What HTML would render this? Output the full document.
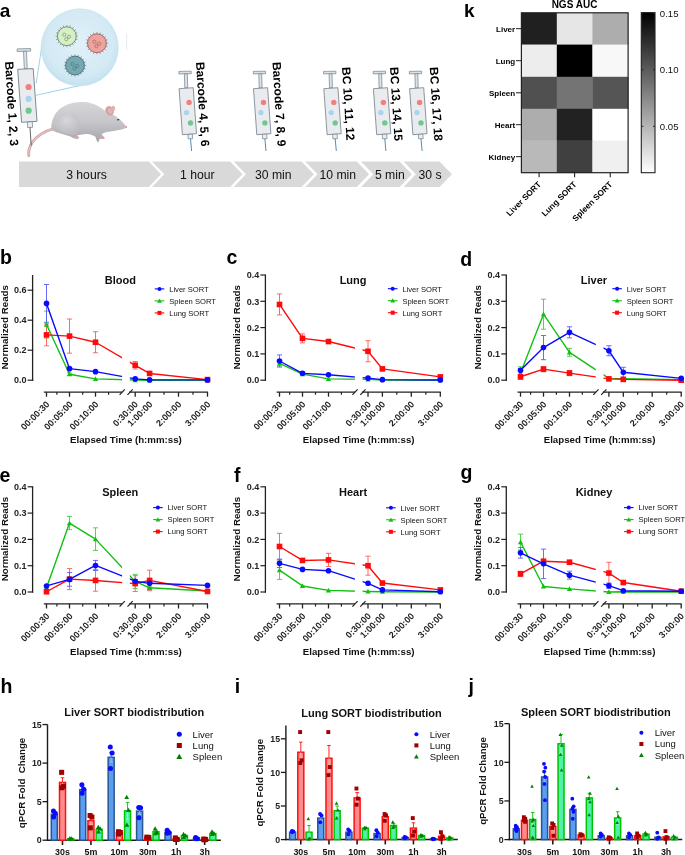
<!DOCTYPE html>
<html><head><meta charset="utf-8"><style>
html,body{margin:0;padding:0;background:#fff;}
body{width:685px;height:855px;overflow:hidden;}
svg{display:block;will-change:transform;}
text{font-family:"Liberation Sans", sans-serif;}
</style></head><body>
<svg width="685" height="855" viewBox="0 0 685 855">
<rect x="0" y="0" width="685" height="855" fill="#fff"/>
<text x="-0.3" y="16.7" font-size="19" font-weight="bold" text-anchor="start" fill="#000">a</text>
<polygon points="19,161.5 148.8,161.5 161.1,174.25 148.8,187 19,187" fill="#d9d9d9" stroke="none" stroke-width="1"/>
<polygon points="152,161.5 230.2,161.5 242.5,174.25 230.2,187 152,187 164.3,174.25" fill="#d9d9d9" stroke="none" stroke-width="1"/>
<polygon points="233.6,161.5 301.6,161.5 313.9,174.25 301.6,187 233.6,187 245.9,174.25" fill="#d9d9d9" stroke="none" stroke-width="1"/>
<polygon points="305.2,161.5 356.8,161.5 369.1,174.25 356.8,187 305.2,187 317.5,174.25" fill="#d9d9d9" stroke="none" stroke-width="1"/>
<polygon points="361,161.5 399.6,161.5 411.9,174.25 399.6,187 361,187 373.3,174.25" fill="#d9d9d9" stroke="none" stroke-width="1"/>
<polygon points="403.6,161.5 439.6,161.5 451.9,174.25 439.6,187 403.6,187 415.9,174.25" fill="#d9d9d9" stroke="none" stroke-width="1"/>
<text x="86.5" y="179" font-size="12.2" text-anchor="middle" fill="#111">3 hours</text>
<text x="197.3" y="179" font-size="12.2" text-anchor="middle" fill="#111">1 hour</text>
<text x="273.3" y="179" font-size="12.2" text-anchor="middle" fill="#111">30 min</text>
<text x="337.8" y="179" font-size="12.2" text-anchor="middle" fill="#111">10 min</text>
<text x="389.8" y="179" font-size="12.2" text-anchor="middle" fill="#111">5 min</text>
<text x="430" y="179" font-size="12.2" text-anchor="middle" fill="#111">30 s</text>
<defs><radialGradient id="bub" cx="50%" cy="45%" r="55%"><stop offset="0%" stop-color="#e2f1f8"/><stop offset="80%" stop-color="#d3e9f4"/><stop offset="100%" stop-color="#c4e1ef"/></radialGradient></defs>
<line x1="36" y1="95.3" x2="80" y2="85.5" stroke="#8cc4e0" stroke-width="0.8"/>
<line x1="36.2" y1="83" x2="42.5" y2="42" stroke="#8cc4e0" stroke-width="0.8"/>
<circle cx="79.7" cy="47.4" r="38.6" fill="url(#bub)" stroke="#bfe0ef" stroke-width="0.6"/>
<line x1="126.6" y1="33" x2="126.6" y2="50" stroke="#e6e6e6" stroke-width="0.9"/>
<path d="M76.1 36.2L78 36.2M75.64 39.07L77.45 39.66M74.32 41.67L75.86 42.78M72.27 43.72L73.38 45.26M69.67 45.04L70.26 46.85M66.8 45.5L66.8 47.4M63.93 45.04L63.34 46.85M61.33 43.72L60.22 45.26M59.28 41.67L57.74 42.78M57.96 39.07L56.15 39.66M57.5 36.2L55.6 36.2M57.96 33.33L56.15 32.74M59.28 30.73L57.74 29.62M61.33 28.68L60.22 27.14M63.93 27.36L63.34 25.55M66.8 26.9L66.8 25M69.67 27.36L70.26 25.55M72.27 28.68L73.38 27.14M74.32 30.73L75.86 29.62M75.64 33.33L77.45 32.74" stroke="#556" stroke-width="0.5"/>
<circle cx="66.8" cy="36.2" r="9.4" fill="#d8eec4" stroke="#5f8f5f" stroke-width="0.9"/>
<circle cx="64.3" cy="34.7" r="1.6" fill="none" stroke="#5f8f5f" stroke-width="0.6"/>
<circle cx="69" cy="36.7" r="1.6" fill="none" stroke="#5f8f5f" stroke-width="0.6"/>
<circle cx="66.3" cy="39.2" r="1.6" fill="none" stroke="#5f8f5f" stroke-width="0.6"/>
<path d="M106.2 43.2L108.1 43.2M105.74 46.07L107.55 46.66M104.42 48.67L105.96 49.78M102.37 50.72L103.48 52.26M99.77 52.04L100.36 53.85M96.9 52.5L96.9 54.4M94.03 52.04L93.44 53.85M91.43 50.72L90.32 52.26M89.38 48.67L87.84 49.78M88.06 46.07L86.25 46.66M87.6 43.2L85.7 43.2M88.06 40.33L86.25 39.74M89.38 37.73L87.84 36.62M91.43 35.68L90.32 34.14M94.03 34.36L93.44 32.55M96.9 33.9L96.9 32M99.77 34.36L100.36 32.55M102.37 35.68L103.48 34.14M104.42 37.73L105.96 36.62M105.74 40.33L107.55 39.74" stroke="#556" stroke-width="0.5"/>
<circle cx="96.9" cy="43.2" r="9.4" fill="#eba59d" stroke="#a85858" stroke-width="0.9"/>
<circle cx="94.4" cy="41.7" r="1.6" fill="none" stroke="#a85858" stroke-width="0.6"/>
<circle cx="99.1" cy="43.7" r="1.6" fill="none" stroke="#a85858" stroke-width="0.6"/>
<circle cx="96.4" cy="46.2" r="1.6" fill="none" stroke="#a85858" stroke-width="0.6"/>
<path d="M84.3 65.5L86.2 65.5M83.84 68.37L85.65 68.96M82.52 70.97L84.06 72.08M80.47 73.02L81.58 74.56M77.87 74.34L78.46 76.15M75 74.8L75 76.7M72.13 74.34L71.54 76.15M69.53 73.02L68.42 74.56M67.48 70.97L65.94 72.08M66.16 68.37L64.35 68.96M65.7 65.5L63.8 65.5M66.16 62.63L64.35 62.04M67.48 60.03L65.94 58.92M69.53 57.98L68.42 56.44M72.13 56.66L71.54 54.85M75 56.2L75 54.3M77.87 56.66L78.46 54.85M80.47 57.98L81.58 56.44M82.52 60.03L84.06 58.92M83.84 62.63L85.65 62.04" stroke="#556" stroke-width="0.5"/>
<circle cx="75" cy="65.5" r="9.4" fill="#76a8b1" stroke="#42727c" stroke-width="0.9"/>
<circle cx="72.5" cy="64" r="1.6" fill="none" stroke="#42727c" stroke-width="0.6"/>
<circle cx="77.2" cy="66" r="1.6" fill="none" stroke="#42727c" stroke-width="0.6"/>
<circle cx="74.5" cy="68.5" r="1.6" fill="none" stroke="#42727c" stroke-width="0.6"/>
<path d="M54,128.5 C45,131 37,136 32.5,142 C29.5,146.5 28.2,151 28.8,155.5" fill="none" stroke="#c49a9d" stroke-width="2.8" stroke-linecap="round"/>
<path d="M54,128.5 C45,131 37,136 32.5,142 C29.5,146.5 28.2,151 28.8,155.5" fill="none" stroke="#e2c2c4" stroke-width="1.4" stroke-linecap="round"/>
<defs><linearGradient id="ms" x1="0" y1="0" x2="0" y2="1"><stop offset="0%" stop-color="#d6d6d9"/><stop offset="50%" stop-color="#c6c6ca"/><stop offset="100%" stop-color="#a3a3a9"/></linearGradient><radialGradient id="mhh" cx="0.45" cy="0.35" r="0.6"><stop offset="0%" stop-color="#dadadd"/><stop offset="100%" stop-color="#bdbdc2"/></radialGradient></defs>
<path d="M51.5,130 C50.5,122 54,113 61,108 C67,103.5 76,101.5 85,102 C92,102.5 99,106 104,110 C108,112 113,114 116,116.5 C120,119 124,123 126.5,127 C125,129 122,129.5 119,130 C115,130.8 112,131.2 108,131.8 C105,132.2 103,133 101.5,134.5 C102.5,135.8 104.8,137 104.6,138.4 C103,139.2 101,139 99.8,138.6 C99.5,140 98.8,141.6 98.1,142.4 C96.8,141 95.8,139 95.5,136.8 C92,134.5 89,134 86,134 C82,134.5 79,135 77,135.2 C78,136.5 79.5,137.5 78.5,138.6 C76,139 73,138.5 70.5,136.5 C64,134.5 57,132.8 51.5,130 Z" fill="url(#ms)"/>
<path d="M56,128 C55,119 61,113 68,113 C75,113 80,119 80,126 C80,131 77,134 73,135 C66,134.5 60,132.5 56,128 Z" fill="url(#mhh)" opacity="0.85"/>
<ellipse cx="109.6" cy="110.8" rx="3.5" ry="4.6" transform="rotate(-25 109.6 110.8)" fill="#d79ea1" stroke="#bf9496" stroke-width="0.4"/>
<ellipse cx="110" cy="111.2" rx="2" ry="3" transform="rotate(-25 110 111.2)" fill="#e6b4b6"/>
<ellipse cx="113.2" cy="108.4" rx="2.0" ry="2.6" fill="#ddb0b2"/>
<ellipse cx="118.2" cy="119.8" rx="1.2" ry="0.75" fill="#3a3a40"/>
<circle cx="126.3" cy="127" r="0.9" fill="#d99a9a"/>
<path d="M101,135 C102.5,135.8 104.8,137 104.6,138.4 C103,139.2 101,139 99.8,138.6 Z" fill="#d8a6a9"/>
<path d="M76.5,135.3 C78,136.5 79.5,137.5 78.5,138.6 C76.5,139 74.5,138.6 73,137.8 Z" fill="#d8a6a9"/>
<polygon points="17.1,48.9 30.6,48.5 30.7,51.1 17.2,51.5" fill="#dde2e6" stroke="#6f7f8a" stroke-width="0.7"/>
<polygon points="23.5,51.3 26.5,51.2 27.2,68.4 24.3,68.6" fill="#dde2e6" stroke="#6f7f8a" stroke-width="0.7"/>
<polygon points="17.7,69.3 33.2,68.6 37,121.3 21.6,122.3" fill="#eaebee" stroke="#6f7f8a" stroke-width="0.9"/>
<polygon points="27.4,122 32.3,121.7 32.6,127.4 27.7,127.6" fill="#eceef0" stroke="#6f7f8a" stroke-width="0.7"/>
<line x1="30" y1="127.5" x2="31.2" y2="145.5" stroke="#555" stroke-width="0.9"/>
<circle cx="28.6" cy="87" r="3.1" fill="#f08080"/>
<circle cx="28.6" cy="98.9" r="3.1" fill="#a8d4ec"/>
<circle cx="28.6" cy="110.7" r="3.1" fill="#70c890"/>
<g transform="translate(178.9,0)">
<polygon points="0,71.4 12.3,71.2 12.3,73.7 0,73.9" fill="#dde2e6" stroke="#6f7f8a" stroke-width="0.7"/>
<polygon points="5.5,73.8 8.4,73.7 8.8,87.8 5.9,87.9" fill="#dde2e6" stroke="#6f7f8a" stroke-width="0.7"/>
<polygon points="0.2,88.7 14.3,87.7 17.6,133.7 3.5,134.7" fill="#eaebee" stroke="#6f7f8a" stroke-width="0.8"/>
<circle cx="10.2" cy="102.4" r="2.7" fill="#f08080"/>
<circle cx="7.6" cy="112.6" r="2.7" fill="#a8d4ec"/>
<circle cx="11.6" cy="122.9" r="2.7" fill="#70c890"/>
<polygon points="9,134.4 13.5,134.1 13.8,138.6 9.3,138.8" fill="#eceef0" stroke="#6f7f8a" stroke-width="0.7"/>
<line x1="11.6" y1="138.8" x2="12.7" y2="151" stroke="#3f7fb0" stroke-width="0.9"/>
</g>
<g transform="translate(253.3,0)">
<polygon points="0,71.4 12.3,71.2 12.3,73.7 0,73.9" fill="#dde2e6" stroke="#6f7f8a" stroke-width="0.7"/>
<polygon points="5.5,73.8 8.4,73.7 8.8,87.8 5.9,87.9" fill="#dde2e6" stroke="#6f7f8a" stroke-width="0.7"/>
<polygon points="0.2,88.7 14.3,87.7 17.6,133.7 3.5,134.7" fill="#eaebee" stroke="#6f7f8a" stroke-width="0.8"/>
<circle cx="10.2" cy="102.4" r="2.7" fill="#f08080"/>
<circle cx="7.6" cy="112.6" r="2.7" fill="#a8d4ec"/>
<circle cx="11.6" cy="122.9" r="2.7" fill="#70c890"/>
<polygon points="9,134.4 13.5,134.1 13.8,138.6 9.3,138.8" fill="#eceef0" stroke="#6f7f8a" stroke-width="0.7"/>
<line x1="11.6" y1="138.8" x2="12.7" y2="151" stroke="#3f7fb0" stroke-width="0.9"/>
</g>
<g transform="translate(323.6,0)">
<polygon points="0,71.4 12.3,71.2 12.3,73.7 0,73.9" fill="#dde2e6" stroke="#6f7f8a" stroke-width="0.7"/>
<polygon points="5.5,73.8 8.4,73.7 8.8,87.8 5.9,87.9" fill="#dde2e6" stroke="#6f7f8a" stroke-width="0.7"/>
<polygon points="0.2,88.7 14.3,87.7 17.6,133.7 3.5,134.7" fill="#eaebee" stroke="#6f7f8a" stroke-width="0.8"/>
<circle cx="10.2" cy="102.4" r="2.7" fill="#f08080"/>
<circle cx="7.6" cy="112.6" r="2.7" fill="#a8d4ec"/>
<circle cx="11.6" cy="122.9" r="2.7" fill="#70c890"/>
<polygon points="9,134.4 13.5,134.1 13.8,138.6 9.3,138.8" fill="#eceef0" stroke="#6f7f8a" stroke-width="0.7"/>
<line x1="11.6" y1="138.8" x2="12.7" y2="151" stroke="#3f7fb0" stroke-width="0.9"/>
</g>
<g transform="translate(373.2,0)">
<polygon points="0,71.4 12.3,71.2 12.3,73.7 0,73.9" fill="#dde2e6" stroke="#6f7f8a" stroke-width="0.7"/>
<polygon points="5.5,73.8 8.4,73.7 8.8,87.8 5.9,87.9" fill="#dde2e6" stroke="#6f7f8a" stroke-width="0.7"/>
<polygon points="0.2,88.7 14.3,87.7 17.6,133.7 3.5,134.7" fill="#eaebee" stroke="#6f7f8a" stroke-width="0.8"/>
<circle cx="10.2" cy="102.4" r="2.7" fill="#f08080"/>
<circle cx="7.6" cy="112.6" r="2.7" fill="#a8d4ec"/>
<circle cx="11.6" cy="122.9" r="2.7" fill="#70c890"/>
<polygon points="9,134.4 13.5,134.1 13.8,138.6 9.3,138.8" fill="#eceef0" stroke="#6f7f8a" stroke-width="0.7"/>
<line x1="11.6" y1="138.8" x2="12.7" y2="151" stroke="#3f7fb0" stroke-width="0.9"/>
</g>
<g transform="translate(409.4,0)">
<polygon points="0,71.4 12.3,71.2 12.3,73.7 0,73.9" fill="#dde2e6" stroke="#6f7f8a" stroke-width="0.7"/>
<polygon points="5.5,73.8 8.4,73.7 8.8,87.8 5.9,87.9" fill="#dde2e6" stroke="#6f7f8a" stroke-width="0.7"/>
<polygon points="0.2,88.7 14.3,87.7 17.6,133.7 3.5,134.7" fill="#eaebee" stroke="#6f7f8a" stroke-width="0.8"/>
<circle cx="10.2" cy="102.4" r="2.7" fill="#f08080"/>
<circle cx="7.6" cy="112.6" r="2.7" fill="#a8d4ec"/>
<circle cx="11.6" cy="122.9" r="2.7" fill="#70c890"/>
<polygon points="9,134.4 13.5,134.1 13.8,138.6 9.3,138.8" fill="#eceef0" stroke="#6f7f8a" stroke-width="0.7"/>
<line x1="11.6" y1="138.8" x2="12.7" y2="151" stroke="#3f7fb0" stroke-width="0.9"/>
</g>
<text x="5" y="61.7" font-size="12" font-weight="bold" text-anchor="start" fill="#000" transform="rotate(86.5 5 61.7)">Barcode 1, 2, 3</text>
<text x="196" y="62.2" font-size="12" font-weight="bold" text-anchor="start" fill="#000" transform="rotate(86.5 196 62.2)">Barcode 4, 5, 6</text>
<text x="272.5" y="62.2" font-size="12" font-weight="bold" text-anchor="start" fill="#000" transform="rotate(86.5 272.5 62.2)">Barcode 7, 8, 9</text>
<text x="342" y="67.3" font-size="12" font-weight="bold" text-anchor="start" fill="#000" transform="rotate(86.5 342 67.3)">BC 10, 11, 12</text>
<text x="390" y="67.3" font-size="12" font-weight="bold" text-anchor="start" fill="#000" transform="rotate(86.5 390 67.3)">BC 13, 14, 15</text>
<text x="429.8" y="67.3" font-size="12" font-weight="bold" text-anchor="start" fill="#000" transform="rotate(86.5 429.8 67.3)">BC 16, 17, 18</text>
<text x="464" y="16.8" font-size="19" font-weight="bold" text-anchor="start" fill="#000">k</text>
<text x="574.5" y="8" font-size="10" font-weight="bold" text-anchor="middle" fill="#000">NGS AUC</text>
<rect x="521.4" y="12.8" width="35.7" height="32.1" fill="#202020" stroke="none" stroke-width="0"/>
<rect x="556.8" y="12.8" width="35.9" height="32.1" fill="#e6e6e6" stroke="none" stroke-width="0"/>
<rect x="592.4" y="12.8" width="36" height="32.1" fill="#adadad" stroke="none" stroke-width="0"/>
<rect x="521.4" y="44.6" width="35.7" height="32.5" fill="#ededed" stroke="none" stroke-width="0"/>
<rect x="556.8" y="44.6" width="35.9" height="32.5" fill="#000000" stroke="none" stroke-width="0"/>
<rect x="592.4" y="44.6" width="36" height="32.5" fill="#f8f8f8" stroke="none" stroke-width="0"/>
<rect x="521.4" y="76.8" width="35.7" height="32.3" fill="#505050" stroke="none" stroke-width="0"/>
<rect x="556.8" y="76.8" width="35.9" height="32.3" fill="#747474" stroke="none" stroke-width="0"/>
<rect x="592.4" y="76.8" width="36" height="32.3" fill="#555555" stroke="none" stroke-width="0"/>
<rect x="521.4" y="108.8" width="35.7" height="32.1" fill="#adadad" stroke="none" stroke-width="0"/>
<rect x="556.8" y="108.8" width="35.9" height="32.1" fill="#222222" stroke="none" stroke-width="0"/>
<rect x="592.4" y="108.8" width="36" height="32.1" fill="#ffffff" stroke="none" stroke-width="0"/>
<rect x="521.4" y="140.6" width="35.7" height="32.4" fill="#b9b9b9" stroke="none" stroke-width="0"/>
<rect x="556.8" y="140.6" width="35.9" height="32.4" fill="#404040" stroke="none" stroke-width="0"/>
<rect x="592.4" y="140.6" width="36" height="32.4" fill="#f0f0f0" stroke="none" stroke-width="0"/>
<rect x="521.4" y="12.8" width="106.7" height="159.9" fill="none" stroke="#222" stroke-width="1.2"/>
<line x1="516" y1="28.7" x2="521.4" y2="28.7" stroke="#222" stroke-width="1"/>
<text x="515.2" y="31.6" font-size="8" font-weight="bold" text-anchor="end" fill="#000">Liver</text>
<line x1="516" y1="60.7" x2="521.4" y2="60.7" stroke="#222" stroke-width="1"/>
<text x="515.2" y="63.6" font-size="8" font-weight="bold" text-anchor="end" fill="#000">Lung</text>
<line x1="516" y1="92.8" x2="521.4" y2="92.8" stroke="#222" stroke-width="1"/>
<text x="515.2" y="95.7" font-size="8" font-weight="bold" text-anchor="end" fill="#000">Spleen</text>
<line x1="516" y1="124.7" x2="521.4" y2="124.7" stroke="#222" stroke-width="1"/>
<text x="515.2" y="127.6" font-size="8" font-weight="bold" text-anchor="end" fill="#000">Heart</text>
<line x1="516" y1="156.65" x2="521.4" y2="156.65" stroke="#222" stroke-width="1"/>
<text x="515.2" y="159.55" font-size="8" font-weight="bold" text-anchor="end" fill="#000">Kidney</text>
<line x1="539.1" y1="172.7" x2="539.1" y2="177.2" stroke="#222" stroke-width="1.1"/>
<text x="541.7" y="184.8" font-size="8.3" font-weight="bold" text-anchor="end" fill="#000" transform="rotate(-45 541.7 184.8)">Liver SORT</text>
<line x1="574.6" y1="172.7" x2="574.6" y2="177.2" stroke="#222" stroke-width="1.1"/>
<text x="577.2" y="184.8" font-size="8.3" font-weight="bold" text-anchor="end" fill="#000" transform="rotate(-45 577.2 184.8)">Lung SORT</text>
<line x1="610.25" y1="172.7" x2="610.25" y2="177.2" stroke="#222" stroke-width="1.1"/>
<text x="612.85" y="184.8" font-size="8.3" font-weight="bold" text-anchor="end" fill="#000" transform="rotate(-45 612.85 184.8)">Spleen SORT</text>
<defs><linearGradient id="cb" x1="0" y1="0" x2="0" y2="1"><stop offset="0%" stop-color="#000"/><stop offset="100%" stop-color="#fff"/></linearGradient></defs>
<rect x="641.3" y="12.6" width="13.7" height="160.1" fill="url(#cb)" stroke="#222" stroke-width="1.1"/>
<line x1="641.3" y1="13.5" x2="643.3" y2="13.5" stroke="#222" stroke-width="1"/>
<line x1="653" y1="13.5" x2="655" y2="13.5" stroke="#222" stroke-width="1"/>
<text x="659.8" y="16.9" font-size="9.6" text-anchor="start" fill="#111">0.15</text>
<line x1="641.3" y1="69.7" x2="643.3" y2="69.7" stroke="#222" stroke-width="1"/>
<line x1="653" y1="69.7" x2="655" y2="69.7" stroke="#222" stroke-width="1"/>
<text x="659.8" y="73.1" font-size="9.6" text-anchor="start" fill="#111">0.10</text>
<line x1="641.3" y1="126.3" x2="643.3" y2="126.3" stroke="#222" stroke-width="1"/>
<line x1="653" y1="126.3" x2="655" y2="126.3" stroke="#222" stroke-width="1"/>
<text x="659.8" y="129.7" font-size="9.6" text-anchor="start" fill="#111">0.05</text>
<text x="0" y="264.2" font-size="19.5" font-weight="bold" text-anchor="start" fill="#000">b</text>
<line x1="32.6" y1="275" x2="32.6" y2="380.8" stroke="#222" stroke-width="1.3"/>
<line x1="27.6" y1="380.2" x2="33.2" y2="380.2" stroke="#222" stroke-width="1.2"/>
<text x="26.4" y="383.4" font-size="9" font-weight="bold" text-anchor="end" fill="#222">0.0</text>
<line x1="27.6" y1="350.2" x2="33.2" y2="350.2" stroke="#222" stroke-width="1.2"/>
<text x="26.4" y="353.4" font-size="9" font-weight="bold" text-anchor="end" fill="#222">0.2</text>
<line x1="27.6" y1="320.2" x2="33.2" y2="320.2" stroke="#222" stroke-width="1.2"/>
<text x="26.4" y="323.4" font-size="9" font-weight="bold" text-anchor="end" fill="#222">0.4</text>
<line x1="27.6" y1="290.2" x2="33.2" y2="290.2" stroke="#222" stroke-width="1.2"/>
<text x="26.4" y="293.4" font-size="9" font-weight="bold" text-anchor="end" fill="#222">0.6</text>
<text x="7.6" y="327.3" font-size="9.75" font-weight="bold" text-anchor="middle" fill="#111" transform="rotate(-90 7.6 327.3)">Normalized Reads</text>
<text x="120.3" y="284.2" font-size="11" font-weight="bold" text-anchor="middle" fill="#111">Blood</text>
<line x1="43.8" y1="392.1" x2="122.2" y2="392.1" stroke="#222" stroke-width="1.4"/>
<line x1="129.1" y1="392.1" x2="208" y2="392.1" stroke="#222" stroke-width="1.4"/>
<line x1="119.6" y1="394.9" x2="124.8" y2="389.3" stroke="#222" stroke-width="1.2"/>
<line x1="127.5" y1="394.9" x2="132.7" y2="389.3" stroke="#222" stroke-width="1.2"/>
<line x1="46.5" y1="392.1" x2="46.5" y2="396.7" stroke="#222" stroke-width="1.3"/>
<line x1="69.5" y1="392.1" x2="69.5" y2="396.7" stroke="#222" stroke-width="1.3"/>
<line x1="95.5" y1="392.1" x2="95.5" y2="396.7" stroke="#222" stroke-width="1.3"/>
<line x1="56.9" y1="392.1" x2="56.9" y2="394.7" stroke="#222" stroke-width="1.2"/>
<line x1="82.7" y1="392.1" x2="82.7" y2="394.7" stroke="#222" stroke-width="1.2"/>
<line x1="108.6" y1="392.1" x2="108.6" y2="394.7" stroke="#222" stroke-width="1.2"/>
<line x1="135.2" y1="392.1" x2="135.2" y2="396.7" stroke="#222" stroke-width="1.3"/>
<line x1="149.6" y1="392.1" x2="149.6" y2="396.7" stroke="#222" stroke-width="1.3"/>
<line x1="178.5" y1="392.1" x2="178.5" y2="396.7" stroke="#222" stroke-width="1.3"/>
<line x1="207.5" y1="392.1" x2="207.5" y2="396.7" stroke="#222" stroke-width="1.3"/>
<line x1="164" y1="392.1" x2="164" y2="394.7" stroke="#222" stroke-width="1.2"/>
<line x1="193" y1="392.1" x2="193" y2="394.7" stroke="#222" stroke-width="1.2"/>
<text x="50.2" y="404.8" font-size="9.1" font-weight="bold" text-anchor="end" fill="#222" transform="rotate(-45 50.2 404.8)">00:00:30</text>
<text x="73.4" y="404.8" font-size="9.1" font-weight="bold" text-anchor="end" fill="#222" transform="rotate(-45 73.4 404.8)">00:05:00</text>
<text x="99.1" y="404.8" font-size="9.1" font-weight="bold" text-anchor="end" fill="#222" transform="rotate(-45 99.1 404.8)">00:10:00</text>
<text x="138.7" y="404.8" font-size="9.1" font-weight="bold" text-anchor="end" fill="#222" transform="rotate(-45 138.7 404.8)">0:30:00</text>
<text x="153.1" y="404.8" font-size="9.1" font-weight="bold" text-anchor="end" fill="#222" transform="rotate(-45 153.1 404.8)">1:00:00</text>
<text x="182" y="404.8" font-size="9.1" font-weight="bold" text-anchor="end" fill="#222" transform="rotate(-45 182 404.8)">2:00:00</text>
<text x="211" y="404.8" font-size="9.1" font-weight="bold" text-anchor="end" fill="#222" transform="rotate(-45 211 404.8)">3:00:00</text>
<text x="125.9" y="442.9" font-size="9.7" font-weight="bold" text-anchor="middle" fill="#111">Elapsed Time (h:mm:ss)</text>
<defs><clipPath id="cl0"><rect x="37.6" y="255" width="84.5" height="130"/><rect x="129.8" y="255" width="100" height="130"/></clipPath></defs>
<line x1="46.5" y1="311.05" x2="46.5" y2="338.05" stroke="#48cc48" stroke-width="0.9"/>
<line x1="43.9" y1="311.05" x2="49.1" y2="311.05" stroke="#48cc48" stroke-width="0.9"/>
<line x1="43.9" y1="338.05" x2="49.1" y2="338.05" stroke="#48cc48" stroke-width="0.9"/>
<line x1="69.5" y1="373" x2="69.5" y2="375.4" stroke="#48cc48" stroke-width="0.9"/>
<line x1="66.9" y1="373" x2="72.1" y2="373" stroke="#48cc48" stroke-width="0.9"/>
<line x1="66.9" y1="375.4" x2="72.1" y2="375.4" stroke="#48cc48" stroke-width="0.9"/>
<line x1="46.5" y1="323.95" x2="46.5" y2="345.85" stroke="#ff5a5a" stroke-width="0.9"/>
<line x1="43.9" y1="323.95" x2="49.1" y2="323.95" stroke="#ff5a5a" stroke-width="0.9"/>
<line x1="43.9" y1="345.85" x2="49.1" y2="345.85" stroke="#ff5a5a" stroke-width="0.9"/>
<line x1="69.5" y1="319" x2="69.5" y2="353.2" stroke="#ff5a5a" stroke-width="0.9"/>
<line x1="66.9" y1="319" x2="72.1" y2="319" stroke="#ff5a5a" stroke-width="0.9"/>
<line x1="66.9" y1="353.2" x2="72.1" y2="353.2" stroke="#ff5a5a" stroke-width="0.9"/>
<line x1="95.5" y1="331.75" x2="95.5" y2="352.75" stroke="#ff5a5a" stroke-width="0.9"/>
<line x1="92.9" y1="331.75" x2="98.1" y2="331.75" stroke="#ff5a5a" stroke-width="0.9"/>
<line x1="92.9" y1="352.75" x2="98.1" y2="352.75" stroke="#ff5a5a" stroke-width="0.9"/>
<line x1="135.2" y1="361.52" x2="135.2" y2="369.02" stroke="#ff5a5a" stroke-width="0.9"/>
<line x1="132.6" y1="361.52" x2="137.8" y2="361.52" stroke="#ff5a5a" stroke-width="0.9"/>
<line x1="132.6" y1="369.02" x2="137.8" y2="369.02" stroke="#ff5a5a" stroke-width="0.9"/>
<line x1="46.5" y1="284.5" x2="46.5" y2="322.3" stroke="#5a5aff" stroke-width="0.9"/>
<line x1="43.9" y1="284.5" x2="49.1" y2="284.5" stroke="#5a5aff" stroke-width="0.9"/>
<line x1="43.9" y1="322.3" x2="49.1" y2="322.3" stroke="#5a5aff" stroke-width="0.9"/>
<line x1="69.5" y1="367.75" x2="69.5" y2="369.55" stroke="#5a5aff" stroke-width="0.9"/>
<line x1="66.9" y1="367.75" x2="72.1" y2="367.75" stroke="#5a5aff" stroke-width="0.9"/>
<line x1="66.9" y1="369.55" x2="72.1" y2="369.55" stroke="#5a5aff" stroke-width="0.9"/>
<polyline points="46.5,324.55 69.5,374.2 95.5,378.85 135.2,380.05 149.6,380.2 207.5,380.2" fill="none" stroke="#12c012" stroke-width="1.4" stroke-linejoin="round" clip-path="url(#cl0)"/>
<polygon points="43.86,326.66 49.14,326.66 46.5,321.91" fill="#12c012" stroke="none" stroke-width="1"/>
<polygon points="66.86,376.31 72.14,376.31 69.5,371.56" fill="#12c012" stroke="none" stroke-width="1"/>
<polygon points="92.86,380.96 98.14,380.96 95.5,376.21" fill="#12c012" stroke="none" stroke-width="1"/>
<polygon points="132.56,382.16 137.84,382.16 135.2,377.41" fill="#12c012" stroke="none" stroke-width="1"/>
<polygon points="146.96,382.31 152.24,382.31 149.6,377.56" fill="#12c012" stroke="none" stroke-width="1"/>
<polygon points="204.86,382.31 210.14,382.31 207.5,377.56" fill="#12c012" stroke="none" stroke-width="1"/>
<polyline points="46.5,334.9 69.5,336.1 95.5,342.25 135.2,365.27 149.6,373.45 207.5,379.6" fill="none" stroke="#ff0a0a" stroke-width="1.4" stroke-linejoin="round" clip-path="url(#cl0)"/>
<rect x="43.7" y="332.1" width="5.6" height="5.6" fill="#ff0a0a" stroke="none" stroke-width="0"/>
<rect x="66.7" y="333.3" width="5.6" height="5.6" fill="#ff0a0a" stroke="none" stroke-width="0"/>
<rect x="92.7" y="339.45" width="5.6" height="5.6" fill="#ff0a0a" stroke="none" stroke-width="0"/>
<rect x="132.4" y="362.47" width="5.6" height="5.6" fill="#ff0a0a" stroke="none" stroke-width="0"/>
<rect x="146.8" y="370.65" width="5.6" height="5.6" fill="#ff0a0a" stroke="none" stroke-width="0"/>
<rect x="204.7" y="376.8" width="5.6" height="5.6" fill="#ff0a0a" stroke="none" stroke-width="0"/>
<polyline points="46.5,303.4 69.5,368.65 95.5,371.65 135.2,378.85 149.6,379.9 207.5,379.9" fill="none" stroke="#0a0aff" stroke-width="1.4" stroke-linejoin="round" clip-path="url(#cl0)"/>
<circle cx="46.5" cy="303.4" r="2.8" fill="#0a0aff"/>
<circle cx="69.5" cy="368.65" r="2.8" fill="#0a0aff"/>
<circle cx="95.5" cy="371.65" r="2.8" fill="#0a0aff"/>
<circle cx="135.2" cy="378.85" r="2.8" fill="#0a0aff"/>
<circle cx="149.6" cy="379.9" r="2.8" fill="#0a0aff"/>
<circle cx="207.5" cy="379.9" r="2.8" fill="#0a0aff"/>
<line x1="154.7" y1="288.9" x2="164.3" y2="288.9" stroke="#0a0aff" stroke-width="1.1"/>
<circle cx="159.5" cy="288.9" r="2.02" fill="#0a0aff"/>
<text x="169.2" y="291.7" font-size="7.6" text-anchor="start" fill="#111">Liver SORT</text>
<line x1="154.7" y1="300.9" x2="164.3" y2="300.9" stroke="#12c012" stroke-width="1.1"/>
<polygon points="157.12,302.8 161.88,302.8 159.5,298.52" fill="#12c012" stroke="none" stroke-width="1"/>
<text x="169.2" y="303.7" font-size="7.6" text-anchor="start" fill="#111">Spleen SORT</text>
<line x1="154.7" y1="312.9" x2="164.3" y2="312.9" stroke="#ff0a0a" stroke-width="1.1"/>
<rect x="157.48" y="310.88" width="4.03" height="4.03" fill="#ff0a0a" stroke="none" stroke-width="0"/>
<text x="169.2" y="315.7" font-size="7.6" text-anchor="start" fill="#111">Lung SORT</text>
<text x="226.6" y="264" font-size="19.5" font-weight="bold" text-anchor="start" fill="#000">c</text>
<line x1="265.4" y1="275" x2="265.4" y2="380.8" stroke="#222" stroke-width="1.3"/>
<line x1="260.4" y1="380.2" x2="266" y2="380.2" stroke="#222" stroke-width="1.2"/>
<text x="259.2" y="383.4" font-size="9" font-weight="bold" text-anchor="end" fill="#222">0.0</text>
<line x1="260.4" y1="353.9" x2="266" y2="353.9" stroke="#222" stroke-width="1.2"/>
<text x="259.2" y="357.1" font-size="9" font-weight="bold" text-anchor="end" fill="#222">0.1</text>
<line x1="260.4" y1="327.6" x2="266" y2="327.6" stroke="#222" stroke-width="1.2"/>
<text x="259.2" y="330.8" font-size="9" font-weight="bold" text-anchor="end" fill="#222">0.2</text>
<line x1="260.4" y1="301.3" x2="266" y2="301.3" stroke="#222" stroke-width="1.2"/>
<text x="259.2" y="304.5" font-size="9" font-weight="bold" text-anchor="end" fill="#222">0.3</text>
<line x1="260.4" y1="275" x2="266" y2="275" stroke="#222" stroke-width="1.2"/>
<text x="259.2" y="278.2" font-size="9" font-weight="bold" text-anchor="end" fill="#222">0.4</text>
<text x="240.4" y="327.3" font-size="9.75" font-weight="bold" text-anchor="middle" fill="#111" transform="rotate(-90 240.4 327.3)">Normalized Reads</text>
<text x="353.1" y="284.2" font-size="11" font-weight="bold" text-anchor="middle" fill="#111">Lung</text>
<line x1="276.6" y1="392.1" x2="355" y2="392.1" stroke="#222" stroke-width="1.4"/>
<line x1="361.9" y1="392.1" x2="440.8" y2="392.1" stroke="#222" stroke-width="1.4"/>
<line x1="352.4" y1="394.9" x2="357.6" y2="389.3" stroke="#222" stroke-width="1.2"/>
<line x1="360.3" y1="394.9" x2="365.5" y2="389.3" stroke="#222" stroke-width="1.2"/>
<line x1="279.5" y1="392.1" x2="279.5" y2="396.7" stroke="#222" stroke-width="1.3"/>
<line x1="302.5" y1="392.1" x2="302.5" y2="396.7" stroke="#222" stroke-width="1.3"/>
<line x1="328.5" y1="392.1" x2="328.5" y2="396.7" stroke="#222" stroke-width="1.3"/>
<line x1="289.7" y1="392.1" x2="289.7" y2="394.7" stroke="#222" stroke-width="1.2"/>
<line x1="315.5" y1="392.1" x2="315.5" y2="394.7" stroke="#222" stroke-width="1.2"/>
<line x1="341.4" y1="392.1" x2="341.4" y2="394.7" stroke="#222" stroke-width="1.2"/>
<line x1="368" y1="392.1" x2="368" y2="396.7" stroke="#222" stroke-width="1.3"/>
<line x1="382.4" y1="392.1" x2="382.4" y2="396.7" stroke="#222" stroke-width="1.3"/>
<line x1="411.3" y1="392.1" x2="411.3" y2="396.7" stroke="#222" stroke-width="1.3"/>
<line x1="440.3" y1="392.1" x2="440.3" y2="396.7" stroke="#222" stroke-width="1.3"/>
<line x1="396.8" y1="392.1" x2="396.8" y2="394.7" stroke="#222" stroke-width="1.2"/>
<line x1="425.8" y1="392.1" x2="425.8" y2="394.7" stroke="#222" stroke-width="1.2"/>
<text x="283" y="404.8" font-size="9.1" font-weight="bold" text-anchor="end" fill="#222" transform="rotate(-45 283 404.8)">00:00:30</text>
<text x="306.2" y="404.8" font-size="9.1" font-weight="bold" text-anchor="end" fill="#222" transform="rotate(-45 306.2 404.8)">00:05:00</text>
<text x="331.9" y="404.8" font-size="9.1" font-weight="bold" text-anchor="end" fill="#222" transform="rotate(-45 331.9 404.8)">00:10:00</text>
<text x="371.5" y="404.8" font-size="9.1" font-weight="bold" text-anchor="end" fill="#222" transform="rotate(-45 371.5 404.8)">0:30:00</text>
<text x="385.9" y="404.8" font-size="9.1" font-weight="bold" text-anchor="end" fill="#222" transform="rotate(-45 385.9 404.8)">1:00:00</text>
<text x="414.8" y="404.8" font-size="9.1" font-weight="bold" text-anchor="end" fill="#222" transform="rotate(-45 414.8 404.8)">2:00:00</text>
<text x="443.8" y="404.8" font-size="9.1" font-weight="bold" text-anchor="end" fill="#222" transform="rotate(-45 443.8 404.8)">3:00:00</text>
<text x="358.7" y="442.9" font-size="9.7" font-weight="bold" text-anchor="middle" fill="#111">Elapsed Time (h:mm:ss)</text>
<defs><clipPath id="cl1"><rect x="270.4" y="255" width="84.5" height="130"/><rect x="362.6" y="255" width="100" height="130"/></clipPath></defs>
<line x1="279.5" y1="360.74" x2="279.5" y2="366" stroke="#48cc48" stroke-width="0.9"/>
<line x1="276.9" y1="360.74" x2="282.1" y2="360.74" stroke="#48cc48" stroke-width="0.9"/>
<line x1="276.9" y1="366" x2="282.1" y2="366" stroke="#48cc48" stroke-width="0.9"/>
<line x1="279.5" y1="293.94" x2="279.5" y2="314.98" stroke="#ff5a5a" stroke-width="0.9"/>
<line x1="276.9" y1="293.94" x2="282.1" y2="293.94" stroke="#ff5a5a" stroke-width="0.9"/>
<line x1="276.9" y1="314.98" x2="282.1" y2="314.98" stroke="#ff5a5a" stroke-width="0.9"/>
<line x1="302.5" y1="333.91" x2="302.5" y2="342.85" stroke="#ff5a5a" stroke-width="0.9"/>
<line x1="299.9" y1="333.91" x2="305.1" y2="333.91" stroke="#ff5a5a" stroke-width="0.9"/>
<line x1="299.9" y1="342.85" x2="305.1" y2="342.85" stroke="#ff5a5a" stroke-width="0.9"/>
<line x1="368" y1="340.75" x2="368" y2="361.79" stroke="#ff5a5a" stroke-width="0.9"/>
<line x1="365.4" y1="340.75" x2="370.6" y2="340.75" stroke="#ff5a5a" stroke-width="0.9"/>
<line x1="365.4" y1="361.79" x2="370.6" y2="361.79" stroke="#ff5a5a" stroke-width="0.9"/>
<line x1="279.5" y1="354.95" x2="279.5" y2="367.05" stroke="#5a5aff" stroke-width="0.9"/>
<line x1="276.9" y1="354.95" x2="282.1" y2="354.95" stroke="#5a5aff" stroke-width="0.9"/>
<line x1="276.9" y1="367.05" x2="282.1" y2="367.05" stroke="#5a5aff" stroke-width="0.9"/>
<line x1="302.5" y1="371.78" x2="302.5" y2="374.94" stroke="#5a5aff" stroke-width="0.9"/>
<line x1="299.9" y1="371.78" x2="305.1" y2="371.78" stroke="#5a5aff" stroke-width="0.9"/>
<line x1="299.9" y1="374.94" x2="305.1" y2="374.94" stroke="#5a5aff" stroke-width="0.9"/>
<polyline points="279.5,363.37 302.5,374.15 328.5,378.88 368,379.41 382.4,379.94 440.3,380.2" fill="none" stroke="#12c012" stroke-width="1.4" stroke-linejoin="round" clip-path="url(#cl1)"/>
<polygon points="276.86,365.48 282.14,365.48 279.5,360.73" fill="#12c012" stroke="none" stroke-width="1"/>
<polygon points="299.86,376.26 305.14,376.26 302.5,371.51" fill="#12c012" stroke="none" stroke-width="1"/>
<polygon points="325.86,381 331.14,381 328.5,376.25" fill="#12c012" stroke="none" stroke-width="1"/>
<polygon points="365.36,381.52 370.64,381.52 368,376.77" fill="#12c012" stroke="none" stroke-width="1"/>
<polygon points="379.76,382.05 385.04,382.05 382.4,377.3" fill="#12c012" stroke="none" stroke-width="1"/>
<polygon points="437.66,382.31 442.94,382.31 440.3,377.56" fill="#12c012" stroke="none" stroke-width="1"/>
<polyline points="279.5,304.46 302.5,338.38 328.5,341.54 368,351.27 382.4,368.89 440.3,376.89" fill="none" stroke="#ff0a0a" stroke-width="1.4" stroke-linejoin="round" clip-path="url(#cl1)"/>
<rect x="276.7" y="301.66" width="5.6" height="5.6" fill="#ff0a0a" stroke="none" stroke-width="0"/>
<rect x="299.7" y="335.58" width="5.6" height="5.6" fill="#ff0a0a" stroke="none" stroke-width="0"/>
<rect x="325.7" y="338.74" width="5.6" height="5.6" fill="#ff0a0a" stroke="none" stroke-width="0"/>
<rect x="365.2" y="348.47" width="5.6" height="5.6" fill="#ff0a0a" stroke="none" stroke-width="0"/>
<rect x="379.6" y="366.09" width="5.6" height="5.6" fill="#ff0a0a" stroke="none" stroke-width="0"/>
<rect x="437.5" y="374.09" width="5.6" height="5.6" fill="#ff0a0a" stroke="none" stroke-width="0"/>
<polyline points="279.5,361 302.5,373.36 328.5,374.68 368,378.1 382.4,379.67 440.3,379.94" fill="none" stroke="#0a0aff" stroke-width="1.4" stroke-linejoin="round" clip-path="url(#cl1)"/>
<circle cx="279.5" cy="361" r="2.8" fill="#0a0aff"/>
<circle cx="302.5" cy="373.36" r="2.8" fill="#0a0aff"/>
<circle cx="328.5" cy="374.68" r="2.8" fill="#0a0aff"/>
<circle cx="368" cy="378.1" r="2.8" fill="#0a0aff"/>
<circle cx="382.4" cy="379.67" r="2.8" fill="#0a0aff"/>
<circle cx="440.3" cy="379.94" r="2.8" fill="#0a0aff"/>
<line x1="387.9" y1="288.7" x2="397.5" y2="288.7" stroke="#0a0aff" stroke-width="1.1"/>
<circle cx="392.7" cy="288.7" r="2.02" fill="#0a0aff"/>
<text x="402.4" y="291.5" font-size="7.6" text-anchor="start" fill="#111">Liver SORT</text>
<line x1="387.9" y1="300.7" x2="397.5" y2="300.7" stroke="#12c012" stroke-width="1.1"/>
<polygon points="390.32,302.6 395.08,302.6 392.7,298.32" fill="#12c012" stroke="none" stroke-width="1"/>
<text x="402.4" y="303.5" font-size="7.6" text-anchor="start" fill="#111">Spleen SORT</text>
<line x1="387.9" y1="312.7" x2="397.5" y2="312.7" stroke="#ff0a0a" stroke-width="1.1"/>
<rect x="390.68" y="310.68" width="4.03" height="4.03" fill="#ff0a0a" stroke="none" stroke-width="0"/>
<text x="402.4" y="315.5" font-size="7.6" text-anchor="start" fill="#111">Lung SORT</text>
<text x="460.2" y="265.7" font-size="19.5" font-weight="bold" text-anchor="start" fill="#000">d</text>
<line x1="506.3" y1="275" x2="506.3" y2="380.8" stroke="#222" stroke-width="1.3"/>
<line x1="501.3" y1="380.2" x2="506.9" y2="380.2" stroke="#222" stroke-width="1.2"/>
<text x="500.1" y="383.4" font-size="9" font-weight="bold" text-anchor="end" fill="#222">0.0</text>
<line x1="501.3" y1="353.9" x2="506.9" y2="353.9" stroke="#222" stroke-width="1.2"/>
<text x="500.1" y="357.1" font-size="9" font-weight="bold" text-anchor="end" fill="#222">0.1</text>
<line x1="501.3" y1="327.6" x2="506.9" y2="327.6" stroke="#222" stroke-width="1.2"/>
<text x="500.1" y="330.8" font-size="9" font-weight="bold" text-anchor="end" fill="#222">0.2</text>
<line x1="501.3" y1="301.3" x2="506.9" y2="301.3" stroke="#222" stroke-width="1.2"/>
<text x="500.1" y="304.5" font-size="9" font-weight="bold" text-anchor="end" fill="#222">0.3</text>
<line x1="501.3" y1="275" x2="506.9" y2="275" stroke="#222" stroke-width="1.2"/>
<text x="500.1" y="278.2" font-size="9" font-weight="bold" text-anchor="end" fill="#222">0.4</text>
<text x="481.3" y="327.3" font-size="9.75" font-weight="bold" text-anchor="middle" fill="#111" transform="rotate(-90 481.3 327.3)">Normalized Reads</text>
<text x="594" y="284.2" font-size="11" font-weight="bold" text-anchor="middle" fill="#111">Liver</text>
<line x1="517.5" y1="392.1" x2="595.9" y2="392.1" stroke="#222" stroke-width="1.4"/>
<line x1="602.8" y1="392.1" x2="681.7" y2="392.1" stroke="#222" stroke-width="1.4"/>
<line x1="593.3" y1="394.9" x2="598.5" y2="389.3" stroke="#222" stroke-width="1.2"/>
<line x1="601.2" y1="394.9" x2="606.4" y2="389.3" stroke="#222" stroke-width="1.2"/>
<line x1="520.5" y1="392.1" x2="520.5" y2="396.7" stroke="#222" stroke-width="1.3"/>
<line x1="543.5" y1="392.1" x2="543.5" y2="396.7" stroke="#222" stroke-width="1.3"/>
<line x1="569.5" y1="392.1" x2="569.5" y2="396.7" stroke="#222" stroke-width="1.3"/>
<line x1="530.6" y1="392.1" x2="530.6" y2="394.7" stroke="#222" stroke-width="1.2"/>
<line x1="556.4" y1="392.1" x2="556.4" y2="394.7" stroke="#222" stroke-width="1.2"/>
<line x1="582.3" y1="392.1" x2="582.3" y2="394.7" stroke="#222" stroke-width="1.2"/>
<line x1="608.9" y1="392.1" x2="608.9" y2="396.7" stroke="#222" stroke-width="1.3"/>
<line x1="623.3" y1="392.1" x2="623.3" y2="396.7" stroke="#222" stroke-width="1.3"/>
<line x1="652.2" y1="392.1" x2="652.2" y2="396.7" stroke="#222" stroke-width="1.3"/>
<line x1="681.2" y1="392.1" x2="681.2" y2="396.7" stroke="#222" stroke-width="1.3"/>
<line x1="637.7" y1="392.1" x2="637.7" y2="394.7" stroke="#222" stroke-width="1.2"/>
<line x1="666.7" y1="392.1" x2="666.7" y2="394.7" stroke="#222" stroke-width="1.2"/>
<text x="523.9" y="404.8" font-size="9.1" font-weight="bold" text-anchor="end" fill="#222" transform="rotate(-45 523.9 404.8)">00:00:30</text>
<text x="547.1" y="404.8" font-size="9.1" font-weight="bold" text-anchor="end" fill="#222" transform="rotate(-45 547.1 404.8)">00:05:00</text>
<text x="572.8" y="404.8" font-size="9.1" font-weight="bold" text-anchor="end" fill="#222" transform="rotate(-45 572.8 404.8)">00:10:00</text>
<text x="612.4" y="404.8" font-size="9.1" font-weight="bold" text-anchor="end" fill="#222" transform="rotate(-45 612.4 404.8)">0:30:00</text>
<text x="626.8" y="404.8" font-size="9.1" font-weight="bold" text-anchor="end" fill="#222" transform="rotate(-45 626.8 404.8)">1:00:00</text>
<text x="655.7" y="404.8" font-size="9.1" font-weight="bold" text-anchor="end" fill="#222" transform="rotate(-45 655.7 404.8)">2:00:00</text>
<text x="684.7" y="404.8" font-size="9.1" font-weight="bold" text-anchor="end" fill="#222" transform="rotate(-45 684.7 404.8)">3:00:00</text>
<text x="599.6" y="442.9" font-size="9.7" font-weight="bold" text-anchor="middle" fill="#111">Elapsed Time (h:mm:ss)</text>
<defs><clipPath id="cl2"><rect x="511.3" y="255" width="84.5" height="130"/><rect x="603.5" y="255" width="100" height="130"/></clipPath></defs>
<line x1="520.5" y1="366.79" x2="520.5" y2="379.41" stroke="#48cc48" stroke-width="0.9"/>
<line x1="517.9" y1="366.79" x2="523.1" y2="366.79" stroke="#48cc48" stroke-width="0.9"/>
<line x1="517.9" y1="379.41" x2="523.1" y2="379.41" stroke="#48cc48" stroke-width="0.9"/>
<line x1="543.5" y1="299.2" x2="543.5" y2="329.18" stroke="#48cc48" stroke-width="0.9"/>
<line x1="540.9" y1="299.2" x2="546.1" y2="299.2" stroke="#48cc48" stroke-width="0.9"/>
<line x1="540.9" y1="329.18" x2="546.1" y2="329.18" stroke="#48cc48" stroke-width="0.9"/>
<line x1="569.5" y1="348.38" x2="569.5" y2="356.27" stroke="#48cc48" stroke-width="0.9"/>
<line x1="566.9" y1="348.38" x2="572.1" y2="348.38" stroke="#48cc48" stroke-width="0.9"/>
<line x1="566.9" y1="356.27" x2="572.1" y2="356.27" stroke="#48cc48" stroke-width="0.9"/>
<line x1="543.5" y1="366.52" x2="543.5" y2="371.78" stroke="#ff5a5a" stroke-width="0.9"/>
<line x1="540.9" y1="366.52" x2="546.1" y2="366.52" stroke="#ff5a5a" stroke-width="0.9"/>
<line x1="540.9" y1="371.78" x2="546.1" y2="371.78" stroke="#ff5a5a" stroke-width="0.9"/>
<line x1="569.5" y1="370.47" x2="569.5" y2="375.73" stroke="#ff5a5a" stroke-width="0.9"/>
<line x1="566.9" y1="370.47" x2="572.1" y2="370.47" stroke="#ff5a5a" stroke-width="0.9"/>
<line x1="566.9" y1="375.73" x2="572.1" y2="375.73" stroke="#ff5a5a" stroke-width="0.9"/>
<line x1="520.5" y1="368.63" x2="520.5" y2="371.78" stroke="#5a5aff" stroke-width="0.9"/>
<line x1="517.9" y1="368.63" x2="523.1" y2="368.63" stroke="#5a5aff" stroke-width="0.9"/>
<line x1="517.9" y1="371.78" x2="523.1" y2="371.78" stroke="#5a5aff" stroke-width="0.9"/>
<line x1="543.5" y1="335.49" x2="543.5" y2="359.69" stroke="#5a5aff" stroke-width="0.9"/>
<line x1="540.9" y1="335.49" x2="546.1" y2="335.49" stroke="#5a5aff" stroke-width="0.9"/>
<line x1="540.9" y1="359.69" x2="546.1" y2="359.69" stroke="#5a5aff" stroke-width="0.9"/>
<line x1="569.5" y1="326.81" x2="569.5" y2="337.86" stroke="#5a5aff" stroke-width="0.9"/>
<line x1="566.9" y1="326.81" x2="572.1" y2="326.81" stroke="#5a5aff" stroke-width="0.9"/>
<line x1="566.9" y1="337.86" x2="572.1" y2="337.86" stroke="#5a5aff" stroke-width="0.9"/>
<line x1="608.9" y1="345.75" x2="608.9" y2="355.74" stroke="#5a5aff" stroke-width="0.9"/>
<line x1="606.3" y1="345.75" x2="611.5" y2="345.75" stroke="#5a5aff" stroke-width="0.9"/>
<line x1="606.3" y1="355.74" x2="611.5" y2="355.74" stroke="#5a5aff" stroke-width="0.9"/>
<line x1="623.3" y1="367.31" x2="623.3" y2="377.31" stroke="#5a5aff" stroke-width="0.9"/>
<line x1="620.7" y1="367.31" x2="625.9" y2="367.31" stroke="#5a5aff" stroke-width="0.9"/>
<line x1="620.7" y1="377.31" x2="625.9" y2="377.31" stroke="#5a5aff" stroke-width="0.9"/>
<polyline points="520.5,373.1 543.5,314.19 569.5,352.32 608.9,378.36 623.3,378.62 681.2,379.67" fill="none" stroke="#12c012" stroke-width="1.4" stroke-linejoin="round" clip-path="url(#cl2)"/>
<polygon points="517.86,375.21 523.14,375.21 520.5,370.46" fill="#12c012" stroke="none" stroke-width="1"/>
<polygon points="540.86,316.3 546.14,316.3 543.5,311.55" fill="#12c012" stroke="none" stroke-width="1"/>
<polygon points="566.86,354.43 572.14,354.43 569.5,349.68" fill="#12c012" stroke="none" stroke-width="1"/>
<polygon points="606.26,380.47 611.54,380.47 608.9,375.72" fill="#12c012" stroke="none" stroke-width="1"/>
<polygon points="620.66,380.73 625.94,380.73 623.3,375.98" fill="#12c012" stroke="none" stroke-width="1"/>
<polygon points="678.56,381.79 683.84,381.79 681.2,377.03" fill="#12c012" stroke="none" stroke-width="1"/>
<polyline points="520.5,376.78 543.5,369.15 569.5,373.1 608.9,378.88 623.3,379.41 681.2,380.2" fill="none" stroke="#ff0a0a" stroke-width="1.4" stroke-linejoin="round" clip-path="url(#cl2)"/>
<rect x="517.7" y="373.98" width="5.6" height="5.6" fill="#ff0a0a" stroke="none" stroke-width="0"/>
<rect x="540.7" y="366.35" width="5.6" height="5.6" fill="#ff0a0a" stroke="none" stroke-width="0"/>
<rect x="566.7" y="370.3" width="5.6" height="5.6" fill="#ff0a0a" stroke="none" stroke-width="0"/>
<rect x="606.1" y="376.08" width="5.6" height="5.6" fill="#ff0a0a" stroke="none" stroke-width="0"/>
<rect x="620.5" y="376.61" width="5.6" height="5.6" fill="#ff0a0a" stroke="none" stroke-width="0"/>
<rect x="678.4" y="377.4" width="5.6" height="5.6" fill="#ff0a0a" stroke="none" stroke-width="0"/>
<polyline points="520.5,370.21 543.5,347.59 569.5,332.33 608.9,350.74 623.3,372.31 681.2,378.36" fill="none" stroke="#0a0aff" stroke-width="1.4" stroke-linejoin="round" clip-path="url(#cl2)"/>
<circle cx="520.5" cy="370.21" r="2.8" fill="#0a0aff"/>
<circle cx="543.5" cy="347.59" r="2.8" fill="#0a0aff"/>
<circle cx="569.5" cy="332.33" r="2.8" fill="#0a0aff"/>
<circle cx="608.9" cy="350.74" r="2.8" fill="#0a0aff"/>
<circle cx="623.3" cy="372.31" r="2.8" fill="#0a0aff"/>
<circle cx="681.2" cy="378.36" r="2.8" fill="#0a0aff"/>
<line x1="612.3" y1="288.7" x2="621.9" y2="288.7" stroke="#0a0aff" stroke-width="1.1"/>
<circle cx="617.1" cy="288.7" r="2.02" fill="#0a0aff"/>
<text x="626.8" y="291.5" font-size="7.6" text-anchor="start" fill="#111">Liver SORT</text>
<line x1="612.3" y1="300.7" x2="621.9" y2="300.7" stroke="#12c012" stroke-width="1.1"/>
<polygon points="614.72,302.6 619.48,302.6 617.1,298.32" fill="#12c012" stroke="none" stroke-width="1"/>
<text x="626.8" y="303.5" font-size="7.6" text-anchor="start" fill="#111">Spleen SORT</text>
<line x1="612.3" y1="312.7" x2="621.9" y2="312.7" stroke="#ff0a0a" stroke-width="1.1"/>
<rect x="615.08" y="310.68" width="4.03" height="4.03" fill="#ff0a0a" stroke="none" stroke-width="0"/>
<text x="626.8" y="315.5" font-size="7.6" text-anchor="start" fill="#111">Lung SORT</text>
<text x="-0.6" y="481.5" font-size="19.5" font-weight="bold" text-anchor="start" fill="#000">e</text>
<line x1="32.6" y1="486.8" x2="32.6" y2="592.6" stroke="#222" stroke-width="1.3"/>
<line x1="27.6" y1="592" x2="33.2" y2="592" stroke="#222" stroke-width="1.2"/>
<text x="26.4" y="595.2" font-size="9" font-weight="bold" text-anchor="end" fill="#222">0.0</text>
<line x1="27.6" y1="565.7" x2="33.2" y2="565.7" stroke="#222" stroke-width="1.2"/>
<text x="26.4" y="568.9" font-size="9" font-weight="bold" text-anchor="end" fill="#222">0.1</text>
<line x1="27.6" y1="539.4" x2="33.2" y2="539.4" stroke="#222" stroke-width="1.2"/>
<text x="26.4" y="542.6" font-size="9" font-weight="bold" text-anchor="end" fill="#222">0.2</text>
<line x1="27.6" y1="513.1" x2="33.2" y2="513.1" stroke="#222" stroke-width="1.2"/>
<text x="26.4" y="516.3" font-size="9" font-weight="bold" text-anchor="end" fill="#222">0.3</text>
<line x1="27.6" y1="486.8" x2="33.2" y2="486.8" stroke="#222" stroke-width="1.2"/>
<text x="26.4" y="490" font-size="9" font-weight="bold" text-anchor="end" fill="#222">0.4</text>
<text x="7.6" y="539.1" font-size="9.75" font-weight="bold" text-anchor="middle" fill="#111" transform="rotate(-90 7.6 539.1)">Normalized Reads</text>
<text x="120.3" y="496" font-size="11" font-weight="bold" text-anchor="middle" fill="#111">Spleen</text>
<line x1="43.8" y1="603.9" x2="122.2" y2="603.9" stroke="#222" stroke-width="1.4"/>
<line x1="129.1" y1="603.9" x2="208" y2="603.9" stroke="#222" stroke-width="1.4"/>
<line x1="119.6" y1="606.7" x2="124.8" y2="601.1" stroke="#222" stroke-width="1.2"/>
<line x1="127.5" y1="606.7" x2="132.7" y2="601.1" stroke="#222" stroke-width="1.2"/>
<line x1="46.5" y1="603.9" x2="46.5" y2="608.5" stroke="#222" stroke-width="1.3"/>
<line x1="69.5" y1="603.9" x2="69.5" y2="608.5" stroke="#222" stroke-width="1.3"/>
<line x1="95.5" y1="603.9" x2="95.5" y2="608.5" stroke="#222" stroke-width="1.3"/>
<line x1="56.9" y1="603.9" x2="56.9" y2="606.5" stroke="#222" stroke-width="1.2"/>
<line x1="82.7" y1="603.9" x2="82.7" y2="606.5" stroke="#222" stroke-width="1.2"/>
<line x1="108.6" y1="603.9" x2="108.6" y2="606.5" stroke="#222" stroke-width="1.2"/>
<line x1="135.2" y1="603.9" x2="135.2" y2="608.5" stroke="#222" stroke-width="1.3"/>
<line x1="149.6" y1="603.9" x2="149.6" y2="608.5" stroke="#222" stroke-width="1.3"/>
<line x1="178.5" y1="603.9" x2="178.5" y2="608.5" stroke="#222" stroke-width="1.3"/>
<line x1="207.5" y1="603.9" x2="207.5" y2="608.5" stroke="#222" stroke-width="1.3"/>
<line x1="164" y1="603.9" x2="164" y2="606.5" stroke="#222" stroke-width="1.2"/>
<line x1="193" y1="603.9" x2="193" y2="606.5" stroke="#222" stroke-width="1.2"/>
<text x="50.2" y="616.6" font-size="9.1" font-weight="bold" text-anchor="end" fill="#222" transform="rotate(-45 50.2 616.6)">00:00:30</text>
<text x="73.4" y="616.6" font-size="9.1" font-weight="bold" text-anchor="end" fill="#222" transform="rotate(-45 73.4 616.6)">00:05:00</text>
<text x="99.1" y="616.6" font-size="9.1" font-weight="bold" text-anchor="end" fill="#222" transform="rotate(-45 99.1 616.6)">00:10:00</text>
<text x="138.7" y="616.6" font-size="9.1" font-weight="bold" text-anchor="end" fill="#222" transform="rotate(-45 138.7 616.6)">0:30:00</text>
<text x="153.1" y="616.6" font-size="9.1" font-weight="bold" text-anchor="end" fill="#222" transform="rotate(-45 153.1 616.6)">1:00:00</text>
<text x="182" y="616.6" font-size="9.1" font-weight="bold" text-anchor="end" fill="#222" transform="rotate(-45 182 616.6)">2:00:00</text>
<text x="211" y="616.6" font-size="9.1" font-weight="bold" text-anchor="end" fill="#222" transform="rotate(-45 211 616.6)">3:00:00</text>
<text x="125.9" y="654.7" font-size="9.7" font-weight="bold" text-anchor="middle" fill="#111">Elapsed Time (h:mm:ss)</text>
<defs><clipPath id="cl3"><rect x="37.6" y="466.8" width="84.5" height="130"/><rect x="129.8" y="466.8" width="100" height="130"/></clipPath></defs>
<line x1="69.5" y1="516.52" x2="69.5" y2="529.67" stroke="#48cc48" stroke-width="0.9"/>
<line x1="66.9" y1="516.52" x2="72.1" y2="516.52" stroke="#48cc48" stroke-width="0.9"/>
<line x1="66.9" y1="529.67" x2="72.1" y2="529.67" stroke="#48cc48" stroke-width="0.9"/>
<line x1="95.5" y1="527.83" x2="95.5" y2="550.45" stroke="#48cc48" stroke-width="0.9"/>
<line x1="92.9" y1="527.83" x2="98.1" y2="527.83" stroke="#48cc48" stroke-width="0.9"/>
<line x1="92.9" y1="550.45" x2="98.1" y2="550.45" stroke="#48cc48" stroke-width="0.9"/>
<line x1="135.2" y1="574.38" x2="135.2" y2="588.58" stroke="#48cc48" stroke-width="0.9"/>
<line x1="132.6" y1="574.38" x2="137.8" y2="574.38" stroke="#48cc48" stroke-width="0.9"/>
<line x1="132.6" y1="588.58" x2="137.8" y2="588.58" stroke="#48cc48" stroke-width="0.9"/>
<line x1="149.6" y1="586.21" x2="149.6" y2="589.37" stroke="#48cc48" stroke-width="0.9"/>
<line x1="147" y1="586.21" x2="152.2" y2="586.21" stroke="#48cc48" stroke-width="0.9"/>
<line x1="147" y1="589.37" x2="152.2" y2="589.37" stroke="#48cc48" stroke-width="0.9"/>
<line x1="69.5" y1="568.59" x2="69.5" y2="589.63" stroke="#ff5a5a" stroke-width="0.9"/>
<line x1="66.9" y1="568.59" x2="72.1" y2="568.59" stroke="#ff5a5a" stroke-width="0.9"/>
<line x1="66.9" y1="589.63" x2="72.1" y2="589.63" stroke="#ff5a5a" stroke-width="0.9"/>
<line x1="95.5" y1="569.64" x2="95.5" y2="591.21" stroke="#ff5a5a" stroke-width="0.9"/>
<line x1="92.9" y1="569.64" x2="98.1" y2="569.64" stroke="#ff5a5a" stroke-width="0.9"/>
<line x1="92.9" y1="591.21" x2="98.1" y2="591.21" stroke="#ff5a5a" stroke-width="0.9"/>
<line x1="135.2" y1="575.69" x2="135.2" y2="591.47" stroke="#ff5a5a" stroke-width="0.9"/>
<line x1="132.6" y1="575.69" x2="137.8" y2="575.69" stroke="#ff5a5a" stroke-width="0.9"/>
<line x1="132.6" y1="591.47" x2="137.8" y2="591.47" stroke="#ff5a5a" stroke-width="0.9"/>
<line x1="149.6" y1="570.17" x2="149.6" y2="590.68" stroke="#ff5a5a" stroke-width="0.9"/>
<line x1="147" y1="570.17" x2="152.2" y2="570.17" stroke="#ff5a5a" stroke-width="0.9"/>
<line x1="147" y1="590.68" x2="152.2" y2="590.68" stroke="#ff5a5a" stroke-width="0.9"/>
<line x1="69.5" y1="572.54" x2="69.5" y2="586.21" stroke="#5a5aff" stroke-width="0.9"/>
<line x1="66.9" y1="572.54" x2="72.1" y2="572.54" stroke="#5a5aff" stroke-width="0.9"/>
<line x1="66.9" y1="586.21" x2="72.1" y2="586.21" stroke="#5a5aff" stroke-width="0.9"/>
<line x1="95.5" y1="560.44" x2="95.5" y2="570.43" stroke="#5a5aff" stroke-width="0.9"/>
<line x1="92.9" y1="560.44" x2="98.1" y2="560.44" stroke="#5a5aff" stroke-width="0.9"/>
<line x1="92.9" y1="570.43" x2="98.1" y2="570.43" stroke="#5a5aff" stroke-width="0.9"/>
<line x1="135.2" y1="579.64" x2="135.2" y2="582.79" stroke="#5a5aff" stroke-width="0.9"/>
<line x1="132.6" y1="579.64" x2="137.8" y2="579.64" stroke="#5a5aff" stroke-width="0.9"/>
<line x1="132.6" y1="582.79" x2="137.8" y2="582.79" stroke="#5a5aff" stroke-width="0.9"/>
<line x1="149.6" y1="578.59" x2="149.6" y2="588.05" stroke="#5a5aff" stroke-width="0.9"/>
<line x1="147" y1="578.59" x2="152.2" y2="578.59" stroke="#5a5aff" stroke-width="0.9"/>
<line x1="147" y1="588.05" x2="152.2" y2="588.05" stroke="#5a5aff" stroke-width="0.9"/>
<polyline points="46.5,587.79 69.5,523.09 95.5,539.14 135.2,581.48 149.6,587.79 207.5,590.95" fill="none" stroke="#12c012" stroke-width="1.4" stroke-linejoin="round" clip-path="url(#cl3)"/>
<polygon points="43.86,589.9 49.14,589.9 46.5,585.15" fill="#12c012" stroke="none" stroke-width="1"/>
<polygon points="66.86,525.21 72.14,525.21 69.5,520.45" fill="#12c012" stroke="none" stroke-width="1"/>
<polygon points="92.86,541.25 98.14,541.25 95.5,536.5" fill="#12c012" stroke="none" stroke-width="1"/>
<polygon points="132.56,583.59 137.84,583.59 135.2,578.84" fill="#12c012" stroke="none" stroke-width="1"/>
<polygon points="146.96,589.9 152.24,589.9 149.6,585.15" fill="#12c012" stroke="none" stroke-width="1"/>
<polygon points="204.86,593.06 210.14,593.06 207.5,588.31" fill="#12c012" stroke="none" stroke-width="1"/>
<polyline points="46.5,591.74 69.5,579.11 95.5,580.43 135.2,583.58 149.6,580.43 207.5,591.47" fill="none" stroke="#ff0a0a" stroke-width="1.4" stroke-linejoin="round" clip-path="url(#cl3)"/>
<rect x="43.7" y="588.94" width="5.6" height="5.6" fill="#ff0a0a" stroke="none" stroke-width="0"/>
<rect x="66.7" y="576.31" width="5.6" height="5.6" fill="#ff0a0a" stroke="none" stroke-width="0"/>
<rect x="92.7" y="577.63" width="5.6" height="5.6" fill="#ff0a0a" stroke="none" stroke-width="0"/>
<rect x="132.4" y="580.78" width="5.6" height="5.6" fill="#ff0a0a" stroke="none" stroke-width="0"/>
<rect x="146.8" y="577.63" width="5.6" height="5.6" fill="#ff0a0a" stroke="none" stroke-width="0"/>
<rect x="204.7" y="588.67" width="5.6" height="5.6" fill="#ff0a0a" stroke="none" stroke-width="0"/>
<polyline points="46.5,585.95 69.5,579.38 95.5,565.44 135.2,581.22 149.6,583.32 207.5,585.42" fill="none" stroke="#0a0aff" stroke-width="1.4" stroke-linejoin="round" clip-path="url(#cl3)"/>
<circle cx="46.5" cy="585.95" r="2.8" fill="#0a0aff"/>
<circle cx="69.5" cy="579.38" r="2.8" fill="#0a0aff"/>
<circle cx="95.5" cy="565.44" r="2.8" fill="#0a0aff"/>
<circle cx="135.2" cy="581.22" r="2.8" fill="#0a0aff"/>
<circle cx="149.6" cy="583.32" r="2.8" fill="#0a0aff"/>
<circle cx="207.5" cy="585.42" r="2.8" fill="#0a0aff"/>
<line x1="153.1" y1="507.6" x2="162.7" y2="507.6" stroke="#0a0aff" stroke-width="1.1"/>
<circle cx="157.9" cy="507.6" r="2.02" fill="#0a0aff"/>
<text x="167.6" y="510.4" font-size="7.6" text-anchor="start" fill="#111">Liver SORT</text>
<line x1="153.1" y1="519.6" x2="162.7" y2="519.6" stroke="#12c012" stroke-width="1.1"/>
<polygon points="155.52,521.5 160.28,521.5 157.9,517.22" fill="#12c012" stroke="none" stroke-width="1"/>
<text x="167.6" y="522.4" font-size="7.6" text-anchor="start" fill="#111">Spleen SORT</text>
<line x1="153.1" y1="531.6" x2="162.7" y2="531.6" stroke="#ff0a0a" stroke-width="1.1"/>
<rect x="155.88" y="529.58" width="4.03" height="4.03" fill="#ff0a0a" stroke="none" stroke-width="0"/>
<text x="167.6" y="534.4" font-size="7.6" text-anchor="start" fill="#111">Lung SORT</text>
<text x="234" y="481.6" font-size="19.5" font-weight="bold" text-anchor="start" fill="#000">f</text>
<line x1="265.4" y1="486.8" x2="265.4" y2="592.6" stroke="#222" stroke-width="1.3"/>
<line x1="260.4" y1="592" x2="266" y2="592" stroke="#222" stroke-width="1.2"/>
<text x="259.2" y="595.2" font-size="9" font-weight="bold" text-anchor="end" fill="#222">0.0</text>
<line x1="260.4" y1="565.7" x2="266" y2="565.7" stroke="#222" stroke-width="1.2"/>
<text x="259.2" y="568.9" font-size="9" font-weight="bold" text-anchor="end" fill="#222">0.1</text>
<line x1="260.4" y1="539.4" x2="266" y2="539.4" stroke="#222" stroke-width="1.2"/>
<text x="259.2" y="542.6" font-size="9" font-weight="bold" text-anchor="end" fill="#222">0.2</text>
<line x1="260.4" y1="513.1" x2="266" y2="513.1" stroke="#222" stroke-width="1.2"/>
<text x="259.2" y="516.3" font-size="9" font-weight="bold" text-anchor="end" fill="#222">0.3</text>
<line x1="260.4" y1="486.8" x2="266" y2="486.8" stroke="#222" stroke-width="1.2"/>
<text x="259.2" y="490" font-size="9" font-weight="bold" text-anchor="end" fill="#222">0.4</text>
<text x="240.4" y="539.1" font-size="9.75" font-weight="bold" text-anchor="middle" fill="#111" transform="rotate(-90 240.4 539.1)">Normalized Reads</text>
<text x="353.1" y="496" font-size="11" font-weight="bold" text-anchor="middle" fill="#111">Heart</text>
<line x1="276.6" y1="603.9" x2="355" y2="603.9" stroke="#222" stroke-width="1.4"/>
<line x1="361.9" y1="603.9" x2="440.8" y2="603.9" stroke="#222" stroke-width="1.4"/>
<line x1="352.4" y1="606.7" x2="357.6" y2="601.1" stroke="#222" stroke-width="1.2"/>
<line x1="360.3" y1="606.7" x2="365.5" y2="601.1" stroke="#222" stroke-width="1.2"/>
<line x1="279.5" y1="603.9" x2="279.5" y2="608.5" stroke="#222" stroke-width="1.3"/>
<line x1="302.5" y1="603.9" x2="302.5" y2="608.5" stroke="#222" stroke-width="1.3"/>
<line x1="328.5" y1="603.9" x2="328.5" y2="608.5" stroke="#222" stroke-width="1.3"/>
<line x1="289.7" y1="603.9" x2="289.7" y2="606.5" stroke="#222" stroke-width="1.2"/>
<line x1="315.5" y1="603.9" x2="315.5" y2="606.5" stroke="#222" stroke-width="1.2"/>
<line x1="341.4" y1="603.9" x2="341.4" y2="606.5" stroke="#222" stroke-width="1.2"/>
<line x1="368" y1="603.9" x2="368" y2="608.5" stroke="#222" stroke-width="1.3"/>
<line x1="382.4" y1="603.9" x2="382.4" y2="608.5" stroke="#222" stroke-width="1.3"/>
<line x1="411.3" y1="603.9" x2="411.3" y2="608.5" stroke="#222" stroke-width="1.3"/>
<line x1="440.3" y1="603.9" x2="440.3" y2="608.5" stroke="#222" stroke-width="1.3"/>
<line x1="396.8" y1="603.9" x2="396.8" y2="606.5" stroke="#222" stroke-width="1.2"/>
<line x1="425.8" y1="603.9" x2="425.8" y2="606.5" stroke="#222" stroke-width="1.2"/>
<text x="283" y="616.6" font-size="9.1" font-weight="bold" text-anchor="end" fill="#222" transform="rotate(-45 283 616.6)">00:00:30</text>
<text x="306.2" y="616.6" font-size="9.1" font-weight="bold" text-anchor="end" fill="#222" transform="rotate(-45 306.2 616.6)">00:05:00</text>
<text x="331.9" y="616.6" font-size="9.1" font-weight="bold" text-anchor="end" fill="#222" transform="rotate(-45 331.9 616.6)">00:10:00</text>
<text x="371.5" y="616.6" font-size="9.1" font-weight="bold" text-anchor="end" fill="#222" transform="rotate(-45 371.5 616.6)">0:30:00</text>
<text x="385.9" y="616.6" font-size="9.1" font-weight="bold" text-anchor="end" fill="#222" transform="rotate(-45 385.9 616.6)">1:00:00</text>
<text x="414.8" y="616.6" font-size="9.1" font-weight="bold" text-anchor="end" fill="#222" transform="rotate(-45 414.8 616.6)">2:00:00</text>
<text x="443.8" y="616.6" font-size="9.1" font-weight="bold" text-anchor="end" fill="#222" transform="rotate(-45 443.8 616.6)">3:00:00</text>
<text x="358.7" y="654.7" font-size="9.7" font-weight="bold" text-anchor="middle" fill="#111">Elapsed Time (h:mm:ss)</text>
<defs><clipPath id="cl4"><rect x="270.4" y="466.8" width="84.5" height="130"/><rect x="362.6" y="466.8" width="100" height="130"/></clipPath></defs>
<line x1="279.5" y1="560.97" x2="279.5" y2="579.38" stroke="#48cc48" stroke-width="0.9"/>
<line x1="276.9" y1="560.97" x2="282.1" y2="560.97" stroke="#48cc48" stroke-width="0.9"/>
<line x1="276.9" y1="579.38" x2="282.1" y2="579.38" stroke="#48cc48" stroke-width="0.9"/>
<line x1="279.5" y1="533.35" x2="279.5" y2="559.65" stroke="#ff5a5a" stroke-width="0.9"/>
<line x1="276.9" y1="533.35" x2="282.1" y2="533.35" stroke="#ff5a5a" stroke-width="0.9"/>
<line x1="276.9" y1="559.65" x2="282.1" y2="559.65" stroke="#ff5a5a" stroke-width="0.9"/>
<line x1="302.5" y1="558.86" x2="302.5" y2="562.02" stroke="#ff5a5a" stroke-width="0.9"/>
<line x1="299.9" y1="558.86" x2="305.1" y2="558.86" stroke="#ff5a5a" stroke-width="0.9"/>
<line x1="299.9" y1="562.02" x2="305.1" y2="562.02" stroke="#ff5a5a" stroke-width="0.9"/>
<line x1="328.5" y1="553.34" x2="328.5" y2="566.49" stroke="#ff5a5a" stroke-width="0.9"/>
<line x1="325.9" y1="553.34" x2="331.1" y2="553.34" stroke="#ff5a5a" stroke-width="0.9"/>
<line x1="325.9" y1="566.49" x2="331.1" y2="566.49" stroke="#ff5a5a" stroke-width="0.9"/>
<line x1="368" y1="556.23" x2="368" y2="575.17" stroke="#ff5a5a" stroke-width="0.9"/>
<line x1="365.4" y1="556.23" x2="370.6" y2="556.23" stroke="#ff5a5a" stroke-width="0.9"/>
<line x1="365.4" y1="575.17" x2="370.6" y2="575.17" stroke="#ff5a5a" stroke-width="0.9"/>
<line x1="279.5" y1="559.12" x2="279.5" y2="567.54" stroke="#5a5aff" stroke-width="0.9"/>
<line x1="276.9" y1="559.12" x2="282.1" y2="559.12" stroke="#5a5aff" stroke-width="0.9"/>
<line x1="276.9" y1="567.54" x2="282.1" y2="567.54" stroke="#5a5aff" stroke-width="0.9"/>
<polyline points="279.5,570.17 302.5,585.95 328.5,590.42 368,591.47 382.4,591.74 440.3,592" fill="none" stroke="#12c012" stroke-width="1.4" stroke-linejoin="round" clip-path="url(#cl4)"/>
<polygon points="276.86,572.28 282.14,572.28 279.5,567.53" fill="#12c012" stroke="none" stroke-width="1"/>
<polygon points="299.86,588.06 305.14,588.06 302.5,583.31" fill="#12c012" stroke="none" stroke-width="1"/>
<polygon points="325.86,592.53 331.14,592.53 328.5,587.78" fill="#12c012" stroke="none" stroke-width="1"/>
<polygon points="365.36,593.59 370.64,593.59 368,588.83" fill="#12c012" stroke="none" stroke-width="1"/>
<polygon points="379.76,593.85 385.04,593.85 382.4,589.1" fill="#12c012" stroke="none" stroke-width="1"/>
<polygon points="437.66,594.11 442.94,594.11 440.3,589.36" fill="#12c012" stroke="none" stroke-width="1"/>
<polyline points="279.5,546.5 302.5,560.44 328.5,559.91 368,565.7 382.4,583.06 440.3,589.9" fill="none" stroke="#ff0a0a" stroke-width="1.4" stroke-linejoin="round" clip-path="url(#cl4)"/>
<rect x="276.7" y="543.7" width="5.6" height="5.6" fill="#ff0a0a" stroke="none" stroke-width="0"/>
<rect x="299.7" y="557.64" width="5.6" height="5.6" fill="#ff0a0a" stroke="none" stroke-width="0"/>
<rect x="325.7" y="557.11" width="5.6" height="5.6" fill="#ff0a0a" stroke="none" stroke-width="0"/>
<rect x="365.2" y="562.9" width="5.6" height="5.6" fill="#ff0a0a" stroke="none" stroke-width="0"/>
<rect x="379.6" y="580.26" width="5.6" height="5.6" fill="#ff0a0a" stroke="none" stroke-width="0"/>
<rect x="437.5" y="587.1" width="5.6" height="5.6" fill="#ff0a0a" stroke="none" stroke-width="0"/>
<polyline points="279.5,563.33 302.5,569.38 328.5,570.7 368,583.32 382.4,589.9 440.3,591.74" fill="none" stroke="#0a0aff" stroke-width="1.4" stroke-linejoin="round" clip-path="url(#cl4)"/>
<circle cx="279.5" cy="563.33" r="2.8" fill="#0a0aff"/>
<circle cx="302.5" cy="569.38" r="2.8" fill="#0a0aff"/>
<circle cx="328.5" cy="570.7" r="2.8" fill="#0a0aff"/>
<circle cx="368" cy="583.32" r="2.8" fill="#0a0aff"/>
<circle cx="382.4" cy="589.9" r="2.8" fill="#0a0aff"/>
<circle cx="440.3" cy="591.74" r="2.8" fill="#0a0aff"/>
<line x1="386.1" y1="507.8" x2="395.7" y2="507.8" stroke="#0a0aff" stroke-width="1.1"/>
<circle cx="390.9" cy="507.8" r="2.02" fill="#0a0aff"/>
<text x="400.6" y="510.6" font-size="7.6" text-anchor="start" fill="#111">Liver SORT</text>
<line x1="386.1" y1="519.8" x2="395.7" y2="519.8" stroke="#12c012" stroke-width="1.1"/>
<polygon points="388.52,521.7 393.28,521.7 390.9,517.42" fill="#12c012" stroke="none" stroke-width="1"/>
<text x="400.6" y="522.6" font-size="7.6" text-anchor="start" fill="#111">Spleen SORT</text>
<line x1="386.1" y1="531.8" x2="395.7" y2="531.8" stroke="#ff0a0a" stroke-width="1.1"/>
<rect x="388.88" y="529.78" width="4.03" height="4.03" fill="#ff0a0a" stroke="none" stroke-width="0"/>
<text x="400.6" y="534.6" font-size="7.6" text-anchor="start" fill="#111">Lung SORT</text>
<text x="460.6" y="478.8" font-size="19.5" font-weight="bold" text-anchor="start" fill="#000">g</text>
<line x1="506.3" y1="486.8" x2="506.3" y2="592.6" stroke="#222" stroke-width="1.3"/>
<line x1="501.3" y1="592" x2="506.9" y2="592" stroke="#222" stroke-width="1.2"/>
<text x="500.1" y="595.2" font-size="9" font-weight="bold" text-anchor="end" fill="#222">0.0</text>
<line x1="501.3" y1="565.7" x2="506.9" y2="565.7" stroke="#222" stroke-width="1.2"/>
<text x="500.1" y="568.9" font-size="9" font-weight="bold" text-anchor="end" fill="#222">0.1</text>
<line x1="501.3" y1="539.4" x2="506.9" y2="539.4" stroke="#222" stroke-width="1.2"/>
<text x="500.1" y="542.6" font-size="9" font-weight="bold" text-anchor="end" fill="#222">0.2</text>
<line x1="501.3" y1="513.1" x2="506.9" y2="513.1" stroke="#222" stroke-width="1.2"/>
<text x="500.1" y="516.3" font-size="9" font-weight="bold" text-anchor="end" fill="#222">0.3</text>
<line x1="501.3" y1="486.8" x2="506.9" y2="486.8" stroke="#222" stroke-width="1.2"/>
<text x="500.1" y="490" font-size="9" font-weight="bold" text-anchor="end" fill="#222">0.4</text>
<text x="481.3" y="539.1" font-size="9.75" font-weight="bold" text-anchor="middle" fill="#111" transform="rotate(-90 481.3 539.1)">Normalized Reads</text>
<text x="594" y="496" font-size="11" font-weight="bold" text-anchor="middle" fill="#111">Kidney</text>
<line x1="517.5" y1="603.9" x2="595.9" y2="603.9" stroke="#222" stroke-width="1.4"/>
<line x1="602.8" y1="603.9" x2="681.7" y2="603.9" stroke="#222" stroke-width="1.4"/>
<line x1="593.3" y1="606.7" x2="598.5" y2="601.1" stroke="#222" stroke-width="1.2"/>
<line x1="601.2" y1="606.7" x2="606.4" y2="601.1" stroke="#222" stroke-width="1.2"/>
<line x1="520.5" y1="603.9" x2="520.5" y2="608.5" stroke="#222" stroke-width="1.3"/>
<line x1="543.5" y1="603.9" x2="543.5" y2="608.5" stroke="#222" stroke-width="1.3"/>
<line x1="569.5" y1="603.9" x2="569.5" y2="608.5" stroke="#222" stroke-width="1.3"/>
<line x1="530.6" y1="603.9" x2="530.6" y2="606.5" stroke="#222" stroke-width="1.2"/>
<line x1="556.4" y1="603.9" x2="556.4" y2="606.5" stroke="#222" stroke-width="1.2"/>
<line x1="582.3" y1="603.9" x2="582.3" y2="606.5" stroke="#222" stroke-width="1.2"/>
<line x1="608.9" y1="603.9" x2="608.9" y2="608.5" stroke="#222" stroke-width="1.3"/>
<line x1="623.3" y1="603.9" x2="623.3" y2="608.5" stroke="#222" stroke-width="1.3"/>
<line x1="652.2" y1="603.9" x2="652.2" y2="608.5" stroke="#222" stroke-width="1.3"/>
<line x1="681.2" y1="603.9" x2="681.2" y2="608.5" stroke="#222" stroke-width="1.3"/>
<line x1="637.7" y1="603.9" x2="637.7" y2="606.5" stroke="#222" stroke-width="1.2"/>
<line x1="666.7" y1="603.9" x2="666.7" y2="606.5" stroke="#222" stroke-width="1.2"/>
<text x="523.9" y="616.6" font-size="9.1" font-weight="bold" text-anchor="end" fill="#222" transform="rotate(-45 523.9 616.6)">00:00:30</text>
<text x="547.1" y="616.6" font-size="9.1" font-weight="bold" text-anchor="end" fill="#222" transform="rotate(-45 547.1 616.6)">00:05:00</text>
<text x="572.8" y="616.6" font-size="9.1" font-weight="bold" text-anchor="end" fill="#222" transform="rotate(-45 572.8 616.6)">00:10:00</text>
<text x="612.4" y="616.6" font-size="9.1" font-weight="bold" text-anchor="end" fill="#222" transform="rotate(-45 612.4 616.6)">0:30:00</text>
<text x="626.8" y="616.6" font-size="9.1" font-weight="bold" text-anchor="end" fill="#222" transform="rotate(-45 626.8 616.6)">1:00:00</text>
<text x="655.7" y="616.6" font-size="9.1" font-weight="bold" text-anchor="end" fill="#222" transform="rotate(-45 655.7 616.6)">2:00:00</text>
<text x="684.7" y="616.6" font-size="9.1" font-weight="bold" text-anchor="end" fill="#222" transform="rotate(-45 684.7 616.6)">3:00:00</text>
<text x="599.6" y="654.7" font-size="9.7" font-weight="bold" text-anchor="middle" fill="#111">Elapsed Time (h:mm:ss)</text>
<defs><clipPath id="cl5"><rect x="511.3" y="466.8" width="84.5" height="130"/><rect x="603.5" y="466.8" width="100" height="130"/></clipPath></defs>
<line x1="520.5" y1="534.14" x2="520.5" y2="549.92" stroke="#48cc48" stroke-width="0.9"/>
<line x1="517.9" y1="534.14" x2="523.1" y2="534.14" stroke="#48cc48" stroke-width="0.9"/>
<line x1="517.9" y1="549.92" x2="523.1" y2="549.92" stroke="#48cc48" stroke-width="0.9"/>
<line x1="520.5" y1="571.22" x2="520.5" y2="576.48" stroke="#ff5a5a" stroke-width="0.9"/>
<line x1="517.9" y1="571.22" x2="523.1" y2="571.22" stroke="#ff5a5a" stroke-width="0.9"/>
<line x1="517.9" y1="576.48" x2="523.1" y2="576.48" stroke="#ff5a5a" stroke-width="0.9"/>
<line x1="569.5" y1="560.18" x2="569.5" y2="564.38" stroke="#ff5a5a" stroke-width="0.9"/>
<line x1="566.9" y1="560.18" x2="572.1" y2="560.18" stroke="#ff5a5a" stroke-width="0.9"/>
<line x1="566.9" y1="564.38" x2="572.1" y2="564.38" stroke="#ff5a5a" stroke-width="0.9"/>
<line x1="608.9" y1="562.28" x2="608.9" y2="583.85" stroke="#ff5a5a" stroke-width="0.9"/>
<line x1="606.3" y1="562.28" x2="611.5" y2="562.28" stroke="#ff5a5a" stroke-width="0.9"/>
<line x1="606.3" y1="583.85" x2="611.5" y2="583.85" stroke="#ff5a5a" stroke-width="0.9"/>
<line x1="520.5" y1="547.55" x2="520.5" y2="558.07" stroke="#5a5aff" stroke-width="0.9"/>
<line x1="517.9" y1="547.55" x2="523.1" y2="547.55" stroke="#5a5aff" stroke-width="0.9"/>
<line x1="517.9" y1="558.07" x2="523.1" y2="558.07" stroke="#5a5aff" stroke-width="0.9"/>
<line x1="543.5" y1="549.13" x2="543.5" y2="578.59" stroke="#5a5aff" stroke-width="0.9"/>
<line x1="540.9" y1="549.13" x2="546.1" y2="549.13" stroke="#5a5aff" stroke-width="0.9"/>
<line x1="540.9" y1="578.59" x2="546.1" y2="578.59" stroke="#5a5aff" stroke-width="0.9"/>
<line x1="569.5" y1="571.22" x2="569.5" y2="579.11" stroke="#5a5aff" stroke-width="0.9"/>
<line x1="566.9" y1="571.22" x2="572.1" y2="571.22" stroke="#5a5aff" stroke-width="0.9"/>
<line x1="566.9" y1="579.11" x2="572.1" y2="579.11" stroke="#5a5aff" stroke-width="0.9"/>
<line x1="608.9" y1="583.06" x2="608.9" y2="588.32" stroke="#5a5aff" stroke-width="0.9"/>
<line x1="606.3" y1="583.06" x2="611.5" y2="583.06" stroke="#5a5aff" stroke-width="0.9"/>
<line x1="606.3" y1="588.32" x2="611.5" y2="588.32" stroke="#5a5aff" stroke-width="0.9"/>
<polyline points="520.5,542.03 543.5,586.48 569.5,588.84 608.9,592 623.3,591.74 681.2,592" fill="none" stroke="#12c012" stroke-width="1.4" stroke-linejoin="round" clip-path="url(#cl5)"/>
<polygon points="517.86,544.14 523.14,544.14 520.5,539.39" fill="#12c012" stroke="none" stroke-width="1"/>
<polygon points="540.86,588.59 546.14,588.59 543.5,583.84" fill="#12c012" stroke="none" stroke-width="1"/>
<polygon points="566.86,590.96 572.14,590.96 569.5,586.2" fill="#12c012" stroke="none" stroke-width="1"/>
<polygon points="606.26,594.11 611.54,594.11 608.9,589.36" fill="#12c012" stroke="none" stroke-width="1"/>
<polygon points="620.66,593.85 625.94,593.85 623.3,589.1" fill="#12c012" stroke="none" stroke-width="1"/>
<polygon points="678.56,594.11 683.84,594.11 681.2,589.36" fill="#12c012" stroke="none" stroke-width="1"/>
<polyline points="520.5,573.85 543.5,561.23 569.5,562.28 608.9,573.06 623.3,582.53 681.2,591.21" fill="none" stroke="#ff0a0a" stroke-width="1.4" stroke-linejoin="round" clip-path="url(#cl5)"/>
<rect x="517.7" y="571.05" width="5.6" height="5.6" fill="#ff0a0a" stroke="none" stroke-width="0"/>
<rect x="540.7" y="558.43" width="5.6" height="5.6" fill="#ff0a0a" stroke="none" stroke-width="0"/>
<rect x="566.7" y="559.48" width="5.6" height="5.6" fill="#ff0a0a" stroke="none" stroke-width="0"/>
<rect x="606.1" y="570.26" width="5.6" height="5.6" fill="#ff0a0a" stroke="none" stroke-width="0"/>
<rect x="620.5" y="579.73" width="5.6" height="5.6" fill="#ff0a0a" stroke="none" stroke-width="0"/>
<rect x="678.4" y="588.41" width="5.6" height="5.6" fill="#ff0a0a" stroke="none" stroke-width="0"/>
<polyline points="520.5,552.81 543.5,563.86 569.5,575.17 608.9,585.69 623.3,590.68 681.2,591.21" fill="none" stroke="#0a0aff" stroke-width="1.4" stroke-linejoin="round" clip-path="url(#cl5)"/>
<circle cx="520.5" cy="552.81" r="2.8" fill="#0a0aff"/>
<circle cx="543.5" cy="563.86" r="2.8" fill="#0a0aff"/>
<circle cx="569.5" cy="575.17" r="2.8" fill="#0a0aff"/>
<circle cx="608.9" cy="585.69" r="2.8" fill="#0a0aff"/>
<circle cx="623.3" cy="590.68" r="2.8" fill="#0a0aff"/>
<circle cx="681.2" cy="591.21" r="2.8" fill="#0a0aff"/>
<line x1="624" y1="507.6" x2="633.6" y2="507.6" stroke="#0a0aff" stroke-width="1.1"/>
<circle cx="628.8" cy="507.6" r="2.02" fill="#0a0aff"/>
<text x="638.5" y="510.4" font-size="7.6" text-anchor="start" fill="#111">Liver SORT</text>
<line x1="624" y1="519.6" x2="633.6" y2="519.6" stroke="#12c012" stroke-width="1.1"/>
<polygon points="626.42,521.5 631.18,521.5 628.8,517.22" fill="#12c012" stroke="none" stroke-width="1"/>
<text x="638.5" y="522.4" font-size="7.6" text-anchor="start" fill="#111">Spleen SORT</text>
<line x1="624" y1="531.6" x2="633.6" y2="531.6" stroke="#ff0a0a" stroke-width="1.1"/>
<rect x="626.78" y="529.58" width="4.03" height="4.03" fill="#ff0a0a" stroke="none" stroke-width="0"/>
<text x="638.5" y="534.4" font-size="7.6" text-anchor="start" fill="#111">Lung SORT</text>
<text x="0.5" y="692.7" font-size="19.5" font-weight="bold" text-anchor="start" fill="#000">h</text>
<text x="134.3" y="716.3" font-size="11" font-weight="bold" text-anchor="middle" fill="#111">Liver SORT biodistribution</text>
<line x1="47.5" y1="724.5" x2="47.5" y2="840.9" stroke="#1a1a1a" stroke-width="1.4"/>
<line x1="42.5" y1="840.2" x2="47.5" y2="840.2" stroke="#1a1a1a" stroke-width="1.3"/>
<text x="41.7" y="843.4" font-size="8.8" font-weight="bold" text-anchor="end" fill="#222">0</text>
<line x1="42.5" y1="801.65" x2="47.5" y2="801.65" stroke="#1a1a1a" stroke-width="1.3"/>
<text x="41.7" y="804.85" font-size="8.8" font-weight="bold" text-anchor="end" fill="#222">5</text>
<line x1="42.5" y1="763.1" x2="47.5" y2="763.1" stroke="#1a1a1a" stroke-width="1.3"/>
<text x="41.7" y="766.3" font-size="8.8" font-weight="bold" text-anchor="end" fill="#222">10</text>
<line x1="42.5" y1="724.55" x2="47.5" y2="724.55" stroke="#1a1a1a" stroke-width="1.3"/>
<text x="41.7" y="727.75" font-size="8.8" font-weight="bold" text-anchor="end" fill="#222">15</text>
<text x="24.8" y="783" font-size="9.7" font-weight="bold" text-anchor="middle" fill="#111" transform="rotate(-90 24.8 783)">qPCR Fold&#160; Change</text>
<line x1="46.8" y1="840.2" x2="220.85" y2="840.2" stroke="#1a1a1a" stroke-width="1.5"/>
<line x1="62.5" y1="840.2" x2="62.5" y2="845" stroke="#1a1a1a" stroke-width="1.6"/>
<text x="62.5" y="854.8" font-size="8.9" font-weight="bold" text-anchor="middle" fill="#111">30s</text>
<rect x="51.3" y="814.29" width="6" height="25.91" fill="#5b9ef0" stroke="#2c5490" stroke-width="1.5"/>
<line x1="54.3" y1="814.29" x2="54.3" y2="812.37" stroke="#2c5490" stroke-width="0.9"/>
<line x1="52.5" y1="812.37" x2="56.1" y2="812.37" stroke="#2c5490" stroke-width="0.9"/>
<line x1="54.3" y1="814.29" x2="54.3" y2="816.22" stroke="#9cc4f6" stroke-width="0.8"/>
<line x1="52.7" y1="816.22" x2="55.9" y2="816.22" stroke="#9cc4f6" stroke-width="0.8"/>
<circle cx="53.44" cy="810.9" r="2.52" fill="#0a0aff"/>
<circle cx="55.27" cy="813.22" r="2.52" fill="#0a0aff"/>
<circle cx="53.65" cy="817.07" r="2.52" fill="#0a0aff"/>
<rect x="59.5" y="782.38" width="6" height="57.83" fill="#ff8c8c" stroke="#ff1010" stroke-width="1.5"/>
<line x1="62.5" y1="782.38" x2="62.5" y2="777.75" stroke="#ff1010" stroke-width="0.9"/>
<line x1="60.7" y1="777.75" x2="64.3" y2="777.75" stroke="#ff1010" stroke-width="0.9"/>
<line x1="62.5" y1="782.38" x2="62.5" y2="787" stroke="#ffc0c0" stroke-width="0.8"/>
<line x1="60.9" y1="787" x2="64.1" y2="787" stroke="#ffc0c0" stroke-width="0.8"/>
<rect x="59.12" y="769.83" width="5.04" height="5.04" fill="#a00000" stroke="none" stroke-width="0"/>
<rect x="60.95" y="783.71" width="5.04" height="5.04" fill="#a00000" stroke="none" stroke-width="0"/>
<rect x="59.33" y="785.25" width="5.04" height="5.04" fill="#a00000" stroke="none" stroke-width="0"/>
<rect x="67.7" y="838.66" width="6" height="1.54" fill="#50f0a8" stroke="#00c400" stroke-width="1.5"/>
<line x1="70.7" y1="838.66" x2="70.7" y2="838.43" stroke="#00c400" stroke-width="0.9"/>
<line x1="68.9" y1="838.43" x2="72.5" y2="838.43" stroke="#00c400" stroke-width="0.9"/>
<line x1="70.7" y1="838.66" x2="70.7" y2="838.89" stroke="#a8f6cf" stroke-width="0.8"/>
<line x1="69.1" y1="838.89" x2="72.3" y2="838.89" stroke="#a8f6cf" stroke-width="0.8"/>
<polygon points="67.46,840.17 72.21,840.17 69.84,835.9" fill="#008000" stroke="none" stroke-width="1"/>
<polygon points="69.3,840.56 74.05,840.56 71.67,836.28" fill="#008000" stroke="none" stroke-width="1"/>
<polygon points="67.68,840.94 72.43,840.94 70.05,836.67" fill="#008000" stroke="none" stroke-width="1"/>
<line x1="90.93" y1="840.2" x2="90.93" y2="845" stroke="#1a1a1a" stroke-width="1.6"/>
<text x="90.93" y="854.8" font-size="8.9" font-weight="bold" text-anchor="middle" fill="#111">5m</text>
<rect x="79.73" y="789.62" width="6" height="50.58" fill="#5b9ef0" stroke="#2c5490" stroke-width="1.5"/>
<line x1="82.73" y1="789.62" x2="82.73" y2="787.31" stroke="#2c5490" stroke-width="0.9"/>
<line x1="80.93" y1="787.31" x2="84.53" y2="787.31" stroke="#2c5490" stroke-width="0.9"/>
<line x1="82.73" y1="789.62" x2="82.73" y2="791.94" stroke="#9cc4f6" stroke-width="0.8"/>
<line x1="81.13" y1="791.94" x2="84.33" y2="791.94" stroke="#9cc4f6" stroke-width="0.8"/>
<circle cx="81.87" cy="784.69" r="2.52" fill="#0a0aff"/>
<circle cx="83.7" cy="789.31" r="2.52" fill="#0a0aff"/>
<circle cx="82.08" cy="793.17" r="2.52" fill="#0a0aff"/>
<rect x="87.93" y="820.77" width="6" height="19.43" fill="#ff8c8c" stroke="#ff1010" stroke-width="1.5"/>
<line x1="90.93" y1="820.77" x2="90.93" y2="816.92" stroke="#ff1010" stroke-width="0.9"/>
<line x1="89.13" y1="816.92" x2="92.73" y2="816.92" stroke="#ff1010" stroke-width="0.9"/>
<line x1="90.93" y1="820.77" x2="90.93" y2="824.63" stroke="#ffc0c0" stroke-width="0.8"/>
<line x1="89.33" y1="824.63" x2="92.53" y2="824.63" stroke="#ffc0c0" stroke-width="0.8"/>
<rect x="87.55" y="813.01" width="5.04" height="5.04" fill="#a00000" stroke="none" stroke-width="0"/>
<rect x="89.38" y="814.55" width="5.04" height="5.04" fill="#a00000" stroke="none" stroke-width="0"/>
<rect x="87.76" y="825.34" width="5.04" height="5.04" fill="#a00000" stroke="none" stroke-width="0"/>
<rect x="96.13" y="829.33" width="6" height="10.87" fill="#50f0a8" stroke="#00c400" stroke-width="1.5"/>
<line x1="99.13" y1="829.33" x2="99.13" y2="827.79" stroke="#00c400" stroke-width="0.9"/>
<line x1="97.33" y1="827.79" x2="100.93" y2="827.79" stroke="#00c400" stroke-width="0.9"/>
<line x1="99.13" y1="829.33" x2="99.13" y2="830.87" stroke="#a8f6cf" stroke-width="0.8"/>
<line x1="97.53" y1="830.87" x2="100.73" y2="830.87" stroke="#a8f6cf" stroke-width="0.8"/>
<polygon points="95.89,828.99 100.64,828.99 98.27,824.72" fill="#008000" stroke="none" stroke-width="1"/>
<polygon points="97.73,830.54 102.48,830.54 100.1,826.26" fill="#008000" stroke="none" stroke-width="1"/>
<polygon points="96.11,833.62 100.86,833.62 98.48,829.34" fill="#008000" stroke="none" stroke-width="1"/>
<line x1="119.36" y1="840.2" x2="119.36" y2="845" stroke="#1a1a1a" stroke-width="1.6"/>
<text x="119.36" y="854.8" font-size="8.9" font-weight="bold" text-anchor="middle" fill="#111">10m</text>
<rect x="108.16" y="757.32" width="6" height="82.88" fill="#5b9ef0" stroke="#2c5490" stroke-width="1.5"/>
<line x1="111.16" y1="757.32" x2="111.16" y2="752.69" stroke="#2c5490" stroke-width="0.9"/>
<line x1="109.36" y1="752.69" x2="112.96" y2="752.69" stroke="#2c5490" stroke-width="0.9"/>
<line x1="111.16" y1="757.32" x2="111.16" y2="761.94" stroke="#9cc4f6" stroke-width="0.8"/>
<line x1="109.56" y1="761.94" x2="112.76" y2="761.94" stroke="#9cc4f6" stroke-width="0.8"/>
<circle cx="110.3" cy="746.91" r="2.52" fill="#0a0aff"/>
<circle cx="112.13" cy="753.08" r="2.52" fill="#0a0aff"/>
<circle cx="110.51" cy="768.5" r="2.52" fill="#0a0aff"/>
<rect x="116.36" y="832.49" width="6" height="7.71" fill="#ff8c8c" stroke="#ff1010" stroke-width="1.5"/>
<line x1="119.36" y1="832.49" x2="119.36" y2="831.72" stroke="#ff1010" stroke-width="0.9"/>
<line x1="117.56" y1="831.72" x2="121.16" y2="831.72" stroke="#ff1010" stroke-width="0.9"/>
<line x1="119.36" y1="832.49" x2="119.36" y2="833.26" stroke="#ffc0c0" stroke-width="0.8"/>
<line x1="117.76" y1="833.26" x2="120.96" y2="833.26" stroke="#ffc0c0" stroke-width="0.8"/>
<rect x="115.98" y="829.2" width="5.04" height="5.04" fill="#a00000" stroke="none" stroke-width="0"/>
<rect x="117.81" y="829.97" width="5.04" height="5.04" fill="#a00000" stroke="none" stroke-width="0"/>
<rect x="116.19" y="831.51" width="5.04" height="5.04" fill="#a00000" stroke="none" stroke-width="0"/>
<rect x="124.56" y="810.9" width="6" height="29.3" fill="#50f0a8" stroke="#00c400" stroke-width="1.5"/>
<line x1="127.56" y1="810.9" x2="127.56" y2="802.42" stroke="#00c400" stroke-width="0.9"/>
<line x1="125.76" y1="802.42" x2="129.36" y2="802.42" stroke="#00c400" stroke-width="0.9"/>
<line x1="127.56" y1="810.9" x2="127.56" y2="819.38" stroke="#a8f6cf" stroke-width="0.8"/>
<line x1="125.96" y1="819.38" x2="129.16" y2="819.38" stroke="#a8f6cf" stroke-width="0.8"/>
<polygon points="124.32,798.92 129.07,798.92 126.7,794.65" fill="#008000" stroke="none" stroke-width="1"/>
<polygon points="126.16,812.03 130.91,812.03 128.53,807.76" fill="#008000" stroke="none" stroke-width="1"/>
<polygon points="124.54,826.68 129.29,826.68 126.91,822.4" fill="#008000" stroke="none" stroke-width="1"/>
<line x1="147.79" y1="840.2" x2="147.79" y2="845" stroke="#1a1a1a" stroke-width="1.6"/>
<text x="147.79" y="854.8" font-size="8.9" font-weight="bold" text-anchor="middle" fill="#111">30m</text>
<rect x="136.59" y="811.13" width="6" height="29.07" fill="#5b9ef0" stroke="#2c5490" stroke-width="1.5"/>
<line x1="139.59" y1="811.13" x2="139.59" y2="808.05" stroke="#2c5490" stroke-width="0.9"/>
<line x1="137.79" y1="808.05" x2="141.39" y2="808.05" stroke="#2c5490" stroke-width="0.9"/>
<line x1="139.59" y1="811.13" x2="139.59" y2="814.22" stroke="#9cc4f6" stroke-width="0.8"/>
<line x1="137.99" y1="814.22" x2="141.19" y2="814.22" stroke="#9cc4f6" stroke-width="0.8"/>
<circle cx="138.73" cy="807.43" r="2.52" fill="#0a0aff"/>
<circle cx="140.56" cy="807.82" r="2.52" fill="#0a0aff"/>
<circle cx="138.94" cy="817.84" r="2.52" fill="#0a0aff"/>
<rect x="144.79" y="837.5" width="6" height="2.7" fill="#ff8c8c" stroke="#ff1010" stroke-width="1.5"/>
<line x1="147.79" y1="837.5" x2="147.79" y2="837.12" stroke="#ff1010" stroke-width="0.9"/>
<line x1="145.99" y1="837.12" x2="149.59" y2="837.12" stroke="#ff1010" stroke-width="0.9"/>
<line x1="147.79" y1="837.5" x2="147.79" y2="837.89" stroke="#ffc0c0" stroke-width="0.8"/>
<line x1="146.19" y1="837.89" x2="149.39" y2="837.89" stroke="#ffc0c0" stroke-width="0.8"/>
<rect x="144.41" y="834.6" width="5.04" height="5.04" fill="#a00000" stroke="none" stroke-width="0"/>
<rect x="146.24" y="834.98" width="5.04" height="5.04" fill="#a00000" stroke="none" stroke-width="0"/>
<rect x="144.62" y="835.37" width="5.04" height="5.04" fill="#a00000" stroke="none" stroke-width="0"/>
<rect x="152.99" y="831.72" width="6" height="8.48" fill="#50f0a8" stroke="#00c400" stroke-width="1.5"/>
<line x1="155.99" y1="831.72" x2="155.99" y2="830.18" stroke="#00c400" stroke-width="0.9"/>
<line x1="154.19" y1="830.18" x2="157.79" y2="830.18" stroke="#00c400" stroke-width="0.9"/>
<line x1="155.99" y1="831.72" x2="155.99" y2="833.26" stroke="#a8f6cf" stroke-width="0.8"/>
<line x1="154.39" y1="833.26" x2="157.59" y2="833.26" stroke="#a8f6cf" stroke-width="0.8"/>
<polygon points="152.75,830.54 157.5,830.54 155.13,826.26" fill="#008000" stroke="none" stroke-width="1"/>
<polygon points="154.59,834.39 159.34,834.39 156.96,830.11" fill="#008000" stroke="none" stroke-width="1"/>
<polygon points="152.97,835.16 157.72,835.16 155.34,830.89" fill="#008000" stroke="none" stroke-width="1"/>
<line x1="176.22" y1="840.2" x2="176.22" y2="845" stroke="#1a1a1a" stroke-width="1.6"/>
<text x="176.22" y="854.8" font-size="8.9" font-weight="bold" text-anchor="middle" fill="#111">1h</text>
<rect x="165.02" y="832.49" width="6" height="7.71" fill="#5b9ef0" stroke="#2c5490" stroke-width="1.5"/>
<line x1="168.02" y1="832.49" x2="168.02" y2="831.72" stroke="#2c5490" stroke-width="0.9"/>
<line x1="166.22" y1="831.72" x2="169.82" y2="831.72" stroke="#2c5490" stroke-width="0.9"/>
<line x1="168.02" y1="832.49" x2="168.02" y2="833.26" stroke="#9cc4f6" stroke-width="0.8"/>
<line x1="166.42" y1="833.26" x2="169.62" y2="833.26" stroke="#9cc4f6" stroke-width="0.8"/>
<circle cx="167.16" cy="830.18" r="2.52" fill="#0a0aff"/>
<circle cx="168.99" cy="832.49" r="2.52" fill="#0a0aff"/>
<circle cx="167.37" cy="833.26" r="2.52" fill="#0a0aff"/>
<rect x="173.22" y="838.66" width="6" height="1.54" fill="#ff8c8c" stroke="#ff1010" stroke-width="1.5"/>
<line x1="176.22" y1="838.66" x2="176.22" y2="838.27" stroke="#ff1010" stroke-width="0.9"/>
<line x1="174.42" y1="838.27" x2="178.02" y2="838.27" stroke="#ff1010" stroke-width="0.9"/>
<line x1="176.22" y1="838.66" x2="176.22" y2="839.04" stroke="#ffc0c0" stroke-width="0.8"/>
<line x1="174.62" y1="839.04" x2="177.82" y2="839.04" stroke="#ffc0c0" stroke-width="0.8"/>
<rect x="172.84" y="835.37" width="5.04" height="5.04" fill="#a00000" stroke="none" stroke-width="0"/>
<rect x="174.67" y="836.91" width="5.04" height="5.04" fill="#a00000" stroke="none" stroke-width="0"/>
<rect x="173.05" y="836.91" width="5.04" height="5.04" fill="#a00000" stroke="none" stroke-width="0"/>
<rect x="181.42" y="835.57" width="6" height="4.63" fill="#50f0a8" stroke="#00c400" stroke-width="1.5"/>
<line x1="184.42" y1="835.57" x2="184.42" y2="834.8" stroke="#00c400" stroke-width="0.9"/>
<line x1="182.62" y1="834.8" x2="186.22" y2="834.8" stroke="#00c400" stroke-width="0.9"/>
<line x1="184.42" y1="835.57" x2="184.42" y2="836.35" stroke="#a8f6cf" stroke-width="0.8"/>
<line x1="182.82" y1="836.35" x2="186.02" y2="836.35" stroke="#a8f6cf" stroke-width="0.8"/>
<polygon points="181.18,835.93 185.93,835.93 183.56,831.66" fill="#008000" stroke="none" stroke-width="1"/>
<polygon points="183.02,837.47 187.77,837.47 185.39,833.2" fill="#008000" stroke="none" stroke-width="1"/>
<polygon points="181.4,839.02 186.15,839.02 183.77,834.74" fill="#008000" stroke="none" stroke-width="1"/>
<line x1="204.65" y1="840.2" x2="204.65" y2="845" stroke="#1a1a1a" stroke-width="1.6"/>
<text x="204.65" y="854.8" font-size="8.9" font-weight="bold" text-anchor="middle" fill="#111">3h</text>
<rect x="193.45" y="838.27" width="6" height="1.93" fill="#5b9ef0" stroke="#2c5490" stroke-width="1.5"/>
<line x1="196.45" y1="838.27" x2="196.45" y2="837.89" stroke="#2c5490" stroke-width="0.9"/>
<line x1="194.65" y1="837.89" x2="198.25" y2="837.89" stroke="#2c5490" stroke-width="0.9"/>
<line x1="196.45" y1="838.27" x2="196.45" y2="838.66" stroke="#9cc4f6" stroke-width="0.8"/>
<line x1="194.85" y1="838.66" x2="198.05" y2="838.66" stroke="#9cc4f6" stroke-width="0.8"/>
<circle cx="195.59" cy="837.5" r="2.52" fill="#0a0aff"/>
<circle cx="197.42" cy="838.66" r="2.52" fill="#0a0aff"/>
<circle cx="195.8" cy="838.66" r="2.52" fill="#0a0aff"/>
<rect x="201.65" y="839.43" width="6" height="0.77" fill="#ff8c8c" stroke="#ff1010" stroke-width="1.5"/>
<line x1="204.65" y1="839.43" x2="204.65" y2="839.27" stroke="#ff1010" stroke-width="0.9"/>
<line x1="202.85" y1="839.27" x2="206.45" y2="839.27" stroke="#ff1010" stroke-width="0.9"/>
<line x1="204.65" y1="839.43" x2="204.65" y2="839.58" stroke="#ffc0c0" stroke-width="0.8"/>
<line x1="203.05" y1="839.58" x2="206.25" y2="839.58" stroke="#ffc0c0" stroke-width="0.8"/>
<rect x="201.27" y="836.52" width="5.04" height="5.04" fill="#a00000" stroke="none" stroke-width="0"/>
<rect x="203.1" y="836.91" width="5.04" height="5.04" fill="#a00000" stroke="none" stroke-width="0"/>
<rect x="201.48" y="837.29" width="5.04" height="5.04" fill="#a00000" stroke="none" stroke-width="0"/>
<rect x="209.85" y="833.65" width="6" height="6.55" fill="#50f0a8" stroke="#00c400" stroke-width="1.5"/>
<line x1="212.85" y1="833.65" x2="212.85" y2="832.88" stroke="#00c400" stroke-width="0.9"/>
<line x1="211.05" y1="832.88" x2="214.65" y2="832.88" stroke="#00c400" stroke-width="0.9"/>
<line x1="212.85" y1="833.65" x2="212.85" y2="834.42" stroke="#a8f6cf" stroke-width="0.8"/>
<line x1="211.25" y1="834.42" x2="214.45" y2="834.42" stroke="#a8f6cf" stroke-width="0.8"/>
<polygon points="209.61,833.62 214.36,833.62 211.99,829.34" fill="#008000" stroke="none" stroke-width="1"/>
<polygon points="211.45,835.16 216.2,835.16 213.82,830.89" fill="#008000" stroke="none" stroke-width="1"/>
<polygon points="209.83,835.93 214.58,835.93 212.2,831.66" fill="#008000" stroke="none" stroke-width="1"/>
<circle cx="179.3" cy="734.3" r="2.52" fill="#0a0aff"/>
<text x="192.6" y="737.7" font-size="9.5" text-anchor="start" fill="#111">Liver</text>
<rect x="176.78" y="742.98" width="5.04" height="5.04" fill="#a00000" stroke="none" stroke-width="0"/>
<text x="192.6" y="748.9" font-size="9.5" text-anchor="start" fill="#111">Lung</text>
<polygon points="176.33,759.08 182.27,759.08 179.3,753.73" fill="#008000" stroke="none" stroke-width="1"/>
<text x="192.6" y="760.1" font-size="9.5" text-anchor="start" fill="#111">Spleen</text>
<text x="234.8" y="693.3" font-size="19.5" font-weight="bold" text-anchor="start" fill="#000">i</text>
<text x="371.5" y="717.1" font-size="11" font-weight="bold" text-anchor="middle" fill="#111">Lung SORT biodistribution</text>
<line x1="285.9" y1="725.4" x2="285.9" y2="840.3" stroke="#1a1a1a" stroke-width="1.4"/>
<line x1="280.9" y1="839.6" x2="285.9" y2="839.6" stroke="#1a1a1a" stroke-width="1.3"/>
<text x="280.1" y="842.8" font-size="8.8" font-weight="bold" text-anchor="end" fill="#222">0</text>
<line x1="280.9" y1="806" x2="285.9" y2="806" stroke="#1a1a1a" stroke-width="1.3"/>
<text x="280.1" y="809.2" font-size="8.8" font-weight="bold" text-anchor="end" fill="#222">5</text>
<line x1="280.9" y1="772.4" x2="285.9" y2="772.4" stroke="#1a1a1a" stroke-width="1.3"/>
<text x="280.1" y="775.6" font-size="8.8" font-weight="bold" text-anchor="end" fill="#222">10</text>
<line x1="280.9" y1="738.8" x2="285.9" y2="738.8" stroke="#1a1a1a" stroke-width="1.3"/>
<text x="280.1" y="742" font-size="8.8" font-weight="bold" text-anchor="end" fill="#222">15</text>
<text x="263.3" y="782.7" font-size="9.7" font-weight="bold" text-anchor="middle" fill="#111" transform="rotate(-90 263.3 782.7)">qPCR Fold Change</text>
<line x1="285.2" y1="839.6" x2="457.8" y2="839.6" stroke="#1a1a1a" stroke-width="1.5"/>
<line x1="300.8" y1="839.6" x2="300.8" y2="844.4" stroke="#1a1a1a" stroke-width="1.6"/>
<text x="300.8" y="854.8" font-size="8.9" font-weight="bold" text-anchor="middle" fill="#111">30s</text>
<rect x="289.6" y="832.21" width="6" height="7.39" fill="#5b9ef0" stroke="#2c5490" stroke-width="1.5"/>
<line x1="292.6" y1="832.21" x2="292.6" y2="831.54" stroke="#2c5490" stroke-width="0.9"/>
<line x1="290.8" y1="831.54" x2="294.4" y2="831.54" stroke="#2c5490" stroke-width="0.9"/>
<line x1="292.6" y1="832.21" x2="292.6" y2="832.88" stroke="#9cc4f6" stroke-width="0.8"/>
<line x1="291" y1="832.88" x2="294.2" y2="832.88" stroke="#9cc4f6" stroke-width="0.8"/>
<circle cx="291.93" cy="830.86" r="1.96" fill="#0a0aff"/>
<circle cx="293.36" cy="831.54" r="1.96" fill="#0a0aff"/>
<circle cx="292.1" cy="832.21" r="1.96" fill="#0a0aff"/>
<rect x="297.8" y="752.24" width="6" height="87.36" fill="#ff8c8c" stroke="#ff1010" stroke-width="1.5"/>
<line x1="300.8" y1="752.24" x2="300.8" y2="742.16" stroke="#ff1010" stroke-width="0.9"/>
<line x1="299" y1="742.16" x2="302.6" y2="742.16" stroke="#ff1010" stroke-width="0.9"/>
<line x1="300.8" y1="752.24" x2="300.8" y2="762.32" stroke="#ffc0c0" stroke-width="0.8"/>
<line x1="299.2" y1="762.32" x2="302.4" y2="762.32" stroke="#ffc0c0" stroke-width="0.8"/>
<rect x="298.17" y="730.12" width="3.92" height="3.92" fill="#a00000" stroke="none" stroke-width="0"/>
<rect x="299.6" y="758.34" width="3.92" height="3.92" fill="#a00000" stroke="none" stroke-width="0"/>
<rect x="298.34" y="761.03" width="3.92" height="3.92" fill="#a00000" stroke="none" stroke-width="0"/>
<rect x="306" y="832.21" width="6" height="7.39" fill="#50f0a8" stroke="#00c400" stroke-width="1.5"/>
<line x1="309" y1="832.21" x2="309" y2="825.49" stroke="#00c400" stroke-width="0.9"/>
<line x1="307.2" y1="825.49" x2="310.8" y2="825.49" stroke="#00c400" stroke-width="0.9"/>
<line x1="309" y1="832.21" x2="309" y2="838.93" stroke="#a8f6cf" stroke-width="0.8"/>
<line x1="307.4" y1="838.93" x2="310.6" y2="838.93" stroke="#a8f6cf" stroke-width="0.8"/>
<polygon points="306.48,820.25 310.18,820.25 308.33,816.92" fill="#008000" stroke="none" stroke-width="1"/>
<polygon points="307.91,839.73 311.6,839.73 309.76,836.41" fill="#008000" stroke="none" stroke-width="1"/>
<polygon points="306.65,840.41 310.34,840.41 308.5,837.08" fill="#008000" stroke="none" stroke-width="1"/>
<line x1="328.96" y1="839.6" x2="328.96" y2="844.4" stroke="#1a1a1a" stroke-width="1.6"/>
<text x="328.96" y="854.8" font-size="8.9" font-weight="bold" text-anchor="middle" fill="#111">5m</text>
<rect x="317.76" y="818.1" width="6" height="21.5" fill="#5b9ef0" stroke="#2c5490" stroke-width="1.5"/>
<line x1="320.76" y1="818.1" x2="320.76" y2="815.41" stroke="#2c5490" stroke-width="0.9"/>
<line x1="318.96" y1="815.41" x2="322.56" y2="815.41" stroke="#2c5490" stroke-width="0.9"/>
<line x1="320.76" y1="818.1" x2="320.76" y2="820.78" stroke="#9cc4f6" stroke-width="0.8"/>
<line x1="319.16" y1="820.78" x2="322.36" y2="820.78" stroke="#9cc4f6" stroke-width="0.8"/>
<circle cx="320.09" cy="814.06" r="1.96" fill="#0a0aff"/>
<circle cx="321.52" cy="815.41" r="1.96" fill="#0a0aff"/>
<circle cx="320.26" cy="822.13" r="1.96" fill="#0a0aff"/>
<rect x="325.96" y="758.29" width="6" height="81.31" fill="#ff8c8c" stroke="#ff1010" stroke-width="1.5"/>
<line x1="328.96" y1="758.29" x2="328.96" y2="745.52" stroke="#ff1010" stroke-width="0.9"/>
<line x1="327.16" y1="745.52" x2="330.76" y2="745.52" stroke="#ff1010" stroke-width="0.9"/>
<line x1="328.96" y1="758.29" x2="328.96" y2="771.06" stroke="#ffc0c0" stroke-width="0.8"/>
<line x1="327.36" y1="771.06" x2="330.56" y2="771.06" stroke="#ffc0c0" stroke-width="0.8"/>
<rect x="326.33" y="730.12" width="3.92" height="3.92" fill="#a00000" stroke="none" stroke-width="0"/>
<rect x="327.76" y="765.06" width="3.92" height="3.92" fill="#a00000" stroke="none" stroke-width="0"/>
<rect x="326.5" y="773.13" width="3.92" height="3.92" fill="#a00000" stroke="none" stroke-width="0"/>
<rect x="334.16" y="810.7" width="6" height="28.9" fill="#50f0a8" stroke="#00c400" stroke-width="1.5"/>
<line x1="337.16" y1="810.7" x2="337.16" y2="806" stroke="#00c400" stroke-width="0.9"/>
<line x1="335.36" y1="806" x2="338.96" y2="806" stroke="#00c400" stroke-width="0.9"/>
<line x1="337.16" y1="810.7" x2="337.16" y2="815.41" stroke="#a8f6cf" stroke-width="0.8"/>
<line x1="335.56" y1="815.41" x2="338.76" y2="815.41" stroke="#a8f6cf" stroke-width="0.8"/>
<polygon points="334.64,804.79 338.34,804.79 336.49,801.46" fill="#008000" stroke="none" stroke-width="1"/>
<polygon points="336.07,811.51 339.76,811.51 337.92,808.18" fill="#008000" stroke="none" stroke-width="1"/>
<polygon points="334.81,819.57 338.5,819.57 336.66,816.25" fill="#008000" stroke="none" stroke-width="1"/>
<line x1="357.12" y1="839.6" x2="357.12" y2="844.4" stroke="#1a1a1a" stroke-width="1.6"/>
<text x="357.12" y="854.8" font-size="8.9" font-weight="bold" text-anchor="middle" fill="#111">10m</text>
<rect x="345.92" y="832.21" width="6" height="7.39" fill="#5b9ef0" stroke="#2c5490" stroke-width="1.5"/>
<line x1="348.92" y1="832.21" x2="348.92" y2="830.86" stroke="#2c5490" stroke-width="0.9"/>
<line x1="347.12" y1="830.86" x2="350.72" y2="830.86" stroke="#2c5490" stroke-width="0.9"/>
<line x1="348.92" y1="832.21" x2="348.92" y2="833.55" stroke="#9cc4f6" stroke-width="0.8"/>
<line x1="347.32" y1="833.55" x2="350.52" y2="833.55" stroke="#9cc4f6" stroke-width="0.8"/>
<circle cx="348.25" cy="829.52" r="1.96" fill="#0a0aff"/>
<circle cx="349.68" cy="830.86" r="1.96" fill="#0a0aff"/>
<circle cx="348.42" cy="834.22" r="1.96" fill="#0a0aff"/>
<rect x="354.12" y="797.94" width="6" height="41.66" fill="#ff8c8c" stroke="#ff1010" stroke-width="1.5"/>
<line x1="357.12" y1="797.94" x2="357.12" y2="792.56" stroke="#ff1010" stroke-width="0.9"/>
<line x1="355.32" y1="792.56" x2="358.92" y2="792.56" stroke="#ff1010" stroke-width="0.9"/>
<line x1="357.12" y1="797.94" x2="357.12" y2="803.31" stroke="#ffc0c0" stroke-width="0.8"/>
<line x1="355.52" y1="803.31" x2="358.72" y2="803.31" stroke="#ffc0c0" stroke-width="0.8"/>
<rect x="354.49" y="786.57" width="3.92" height="3.92" fill="#a00000" stroke="none" stroke-width="0"/>
<rect x="355.92" y="796.65" width="3.92" height="3.92" fill="#a00000" stroke="none" stroke-width="0"/>
<rect x="354.66" y="802.7" width="3.92" height="3.92" fill="#a00000" stroke="none" stroke-width="0"/>
<rect x="362.32" y="828.18" width="6" height="11.42" fill="#50f0a8" stroke="#00c400" stroke-width="1.5"/>
<line x1="365.32" y1="828.18" x2="365.32" y2="827.5" stroke="#00c400" stroke-width="0.9"/>
<line x1="363.52" y1="827.5" x2="367.12" y2="827.5" stroke="#00c400" stroke-width="0.9"/>
<line x1="365.32" y1="828.18" x2="365.32" y2="828.85" stroke="#a8f6cf" stroke-width="0.8"/>
<line x1="363.72" y1="828.85" x2="366.92" y2="828.85" stroke="#a8f6cf" stroke-width="0.8"/>
<polygon points="362.8,828.98 366.5,828.98 364.65,825.66" fill="#008000" stroke="none" stroke-width="1"/>
<polygon points="364.23,828.98 367.92,828.98 366.08,825.66" fill="#008000" stroke="none" stroke-width="1"/>
<polygon points="362.97,830.33 366.66,830.33 364.82,827" fill="#008000" stroke="none" stroke-width="1"/>
<line x1="385.28" y1="839.6" x2="385.28" y2="844.4" stroke="#1a1a1a" stroke-width="1.6"/>
<text x="385.28" y="854.8" font-size="8.9" font-weight="bold" text-anchor="middle" fill="#111">30m</text>
<rect x="374.08" y="833.55" width="6" height="6.05" fill="#5b9ef0" stroke="#2c5490" stroke-width="1.5"/>
<line x1="377.08" y1="833.55" x2="377.08" y2="831.54" stroke="#2c5490" stroke-width="0.9"/>
<line x1="375.28" y1="831.54" x2="378.88" y2="831.54" stroke="#2c5490" stroke-width="0.9"/>
<line x1="377.08" y1="833.55" x2="377.08" y2="835.57" stroke="#9cc4f6" stroke-width="0.8"/>
<line x1="375.48" y1="835.57" x2="378.68" y2="835.57" stroke="#9cc4f6" stroke-width="0.8"/>
<circle cx="376.41" cy="830.19" r="1.96" fill="#0a0aff"/>
<circle cx="377.84" cy="832.88" r="1.96" fill="#0a0aff"/>
<circle cx="376.58" cy="836.24" r="1.96" fill="#0a0aff"/>
<rect x="382.28" y="816.75" width="6" height="22.85" fill="#ff8c8c" stroke="#ff1010" stroke-width="1.5"/>
<line x1="385.28" y1="816.75" x2="385.28" y2="814.74" stroke="#ff1010" stroke-width="0.9"/>
<line x1="383.48" y1="814.74" x2="387.08" y2="814.74" stroke="#ff1010" stroke-width="0.9"/>
<line x1="385.28" y1="816.75" x2="385.28" y2="818.77" stroke="#ffc0c0" stroke-width="0.8"/>
<line x1="383.68" y1="818.77" x2="386.88" y2="818.77" stroke="#ffc0c0" stroke-width="0.8"/>
<rect x="382.65" y="812.1" width="3.92" height="3.92" fill="#a00000" stroke="none" stroke-width="0"/>
<rect x="384.08" y="813.45" width="3.92" height="3.92" fill="#a00000" stroke="none" stroke-width="0"/>
<rect x="382.82" y="818.82" width="3.92" height="3.92" fill="#a00000" stroke="none" stroke-width="0"/>
<rect x="390.48" y="825.49" width="6" height="14.11" fill="#50f0a8" stroke="#00c400" stroke-width="1.5"/>
<line x1="393.48" y1="825.49" x2="393.48" y2="823.47" stroke="#00c400" stroke-width="0.9"/>
<line x1="391.68" y1="823.47" x2="395.28" y2="823.47" stroke="#00c400" stroke-width="0.9"/>
<line x1="393.48" y1="825.49" x2="393.48" y2="827.5" stroke="#a8f6cf" stroke-width="0.8"/>
<line x1="391.88" y1="827.5" x2="395.08" y2="827.5" stroke="#a8f6cf" stroke-width="0.8"/>
<polygon points="390.96,823.61 394.66,823.61 392.81,820.28" fill="#008000" stroke="none" stroke-width="1"/>
<polygon points="392.39,827.64 396.08,827.64 394.24,824.31" fill="#008000" stroke="none" stroke-width="1"/>
<polygon points="391.13,828.98 394.82,828.98 392.98,825.66" fill="#008000" stroke="none" stroke-width="1"/>
<line x1="413.44" y1="839.6" x2="413.44" y2="844.4" stroke="#1a1a1a" stroke-width="1.6"/>
<text x="413.44" y="854.8" font-size="8.9" font-weight="bold" text-anchor="middle" fill="#111">1h</text>
<rect x="402.24" y="837.58" width="6" height="2.02" fill="#5b9ef0" stroke="#2c5490" stroke-width="1.5"/>
<line x1="405.24" y1="837.58" x2="405.24" y2="837.25" stroke="#2c5490" stroke-width="0.9"/>
<line x1="403.44" y1="837.25" x2="407.04" y2="837.25" stroke="#2c5490" stroke-width="0.9"/>
<line x1="405.24" y1="837.58" x2="405.24" y2="837.92" stroke="#9cc4f6" stroke-width="0.8"/>
<line x1="403.64" y1="837.92" x2="406.84" y2="837.92" stroke="#9cc4f6" stroke-width="0.8"/>
<circle cx="404.57" cy="836.91" r="1.96" fill="#0a0aff"/>
<circle cx="406" cy="837.58" r="1.96" fill="#0a0aff"/>
<circle cx="404.74" cy="838.26" r="1.96" fill="#0a0aff"/>
<rect x="410.44" y="828.18" width="6" height="11.42" fill="#ff8c8c" stroke="#ff1010" stroke-width="1.5"/>
<line x1="413.44" y1="828.18" x2="413.44" y2="822.8" stroke="#ff1010" stroke-width="0.9"/>
<line x1="411.64" y1="822.8" x2="415.24" y2="822.8" stroke="#ff1010" stroke-width="0.9"/>
<line x1="413.44" y1="828.18" x2="413.44" y2="833.55" stroke="#ffc0c0" stroke-width="0.8"/>
<line x1="411.84" y1="833.55" x2="415.04" y2="833.55" stroke="#ffc0c0" stroke-width="0.8"/>
<rect x="410.81" y="816.14" width="3.92" height="3.92" fill="#a00000" stroke="none" stroke-width="0"/>
<rect x="412.24" y="829.58" width="3.92" height="3.92" fill="#a00000" stroke="none" stroke-width="0"/>
<rect x="410.98" y="833.61" width="3.92" height="3.92" fill="#a00000" stroke="none" stroke-width="0"/>
<rect x="418.64" y="835.57" width="6" height="4.03" fill="#50f0a8" stroke="#00c400" stroke-width="1.5"/>
<line x1="421.64" y1="835.57" x2="421.64" y2="835.23" stroke="#00c400" stroke-width="0.9"/>
<line x1="419.84" y1="835.23" x2="423.44" y2="835.23" stroke="#00c400" stroke-width="0.9"/>
<line x1="421.64" y1="835.57" x2="421.64" y2="835.9" stroke="#a8f6cf" stroke-width="0.8"/>
<line x1="420.04" y1="835.9" x2="423.24" y2="835.9" stroke="#a8f6cf" stroke-width="0.8"/>
<polygon points="419.12,836.37 422.82,836.37 420.97,833.05" fill="#008000" stroke="none" stroke-width="1"/>
<polygon points="420.55,837.05 424.24,837.05 422.4,833.72" fill="#008000" stroke="none" stroke-width="1"/>
<polygon points="419.29,837.72 422.98,837.72 421.14,834.39" fill="#008000" stroke="none" stroke-width="1"/>
<line x1="441.6" y1="839.6" x2="441.6" y2="844.4" stroke="#1a1a1a" stroke-width="1.6"/>
<text x="441.6" y="854.8" font-size="8.9" font-weight="bold" text-anchor="middle" fill="#111">3h</text>
<rect x="430.4" y="838.93" width="6" height="0.67" fill="#5b9ef0" stroke="#2c5490" stroke-width="1.5"/>
<line x1="433.4" y1="838.93" x2="433.4" y2="838.73" stroke="#2c5490" stroke-width="0.9"/>
<line x1="431.6" y1="838.73" x2="435.2" y2="838.73" stroke="#2c5490" stroke-width="0.9"/>
<line x1="433.4" y1="838.93" x2="433.4" y2="839.13" stroke="#9cc4f6" stroke-width="0.8"/>
<line x1="431.8" y1="839.13" x2="435" y2="839.13" stroke="#9cc4f6" stroke-width="0.8"/>
<circle cx="432.73" cy="838.59" r="1.96" fill="#0a0aff"/>
<circle cx="434.16" cy="838.93" r="1.96" fill="#0a0aff"/>
<circle cx="432.9" cy="839.26" r="1.96" fill="#0a0aff"/>
<rect x="438.6" y="836.24" width="6" height="3.36" fill="#ff8c8c" stroke="#ff1010" stroke-width="1.5"/>
<line x1="441.6" y1="836.24" x2="441.6" y2="834.22" stroke="#ff1010" stroke-width="0.9"/>
<line x1="439.8" y1="834.22" x2="443.4" y2="834.22" stroke="#ff1010" stroke-width="0.9"/>
<line x1="441.6" y1="836.24" x2="441.6" y2="838.26" stroke="#ffc0c0" stroke-width="0.8"/>
<line x1="440" y1="838.26" x2="443.2" y2="838.26" stroke="#ffc0c0" stroke-width="0.8"/>
<rect x="438.97" y="830.25" width="3.92" height="3.92" fill="#a00000" stroke="none" stroke-width="0"/>
<rect x="440.4" y="834.28" width="3.92" height="3.92" fill="#a00000" stroke="none" stroke-width="0"/>
<rect x="439.14" y="836.97" width="3.92" height="3.92" fill="#a00000" stroke="none" stroke-width="0"/>
<rect x="446.8" y="837.92" width="6" height="1.68" fill="#50f0a8" stroke="#00c400" stroke-width="1.5"/>
<line x1="449.8" y1="837.92" x2="449.8" y2="837.25" stroke="#00c400" stroke-width="0.9"/>
<line x1="448" y1="837.25" x2="451.6" y2="837.25" stroke="#00c400" stroke-width="0.9"/>
<line x1="449.8" y1="837.92" x2="449.8" y2="838.59" stroke="#a8f6cf" stroke-width="0.8"/>
<line x1="448.2" y1="838.59" x2="451.4" y2="838.59" stroke="#a8f6cf" stroke-width="0.8"/>
<polygon points="447.28,838.39 450.98,838.39 449.13,835.06" fill="#008000" stroke="none" stroke-width="1"/>
<polygon points="448.71,839.06 452.4,839.06 450.56,835.74" fill="#008000" stroke="none" stroke-width="1"/>
<polygon points="447.45,840.41 451.14,840.41 449.3,837.08" fill="#008000" stroke="none" stroke-width="1"/>
<circle cx="416.4" cy="734.2" r="2.02" fill="#0a0aff"/>
<text x="429.7" y="737.6" font-size="9.5" text-anchor="start" fill="#111">Liver</text>
<rect x="414.38" y="743.38" width="4.03" height="4.03" fill="#a00000" stroke="none" stroke-width="0"/>
<text x="429.7" y="748.8" font-size="9.5" text-anchor="start" fill="#111">Lung</text>
<polygon points="414.02,758.5 418.78,758.5 416.4,754.22" fill="#008000" stroke="none" stroke-width="1"/>
<text x="429.7" y="760" font-size="9.5" text-anchor="start" fill="#111">Spleen</text>
<text x="468.4" y="693" font-size="19.5" font-weight="bold" text-anchor="start" fill="#000">j</text>
<text x="595.8" y="716" font-size="11" font-weight="bold" text-anchor="middle" fill="#111">Spleen SORT biodistribution</text>
<line x1="509.4" y1="723.7" x2="509.4" y2="840.3" stroke="#1a1a1a" stroke-width="1.4"/>
<line x1="504.4" y1="839.6" x2="509.4" y2="839.6" stroke="#1a1a1a" stroke-width="1.3"/>
<text x="503.6" y="842.8" font-size="8.8" font-weight="bold" text-anchor="end" fill="#222">0</text>
<line x1="504.4" y1="800.95" x2="509.4" y2="800.95" stroke="#1a1a1a" stroke-width="1.3"/>
<text x="503.6" y="804.15" font-size="8.8" font-weight="bold" text-anchor="end" fill="#222">5</text>
<line x1="504.4" y1="762.3" x2="509.4" y2="762.3" stroke="#1a1a1a" stroke-width="1.3"/>
<text x="503.6" y="765.5" font-size="8.8" font-weight="bold" text-anchor="end" fill="#222">10</text>
<line x1="504.4" y1="723.65" x2="509.4" y2="723.65" stroke="#1a1a1a" stroke-width="1.3"/>
<text x="503.6" y="726.85" font-size="8.8" font-weight="bold" text-anchor="end" fill="#222">15</text>
<text x="485.7" y="781" font-size="9.7" font-weight="bold" text-anchor="middle" fill="#111" transform="rotate(-90 485.7 781)">qPCR Fold Change</text>
<line x1="508.7" y1="839.6" x2="682.3" y2="839.6" stroke="#1a1a1a" stroke-width="1.5"/>
<line x1="524.5" y1="839.6" x2="524.5" y2="844.4" stroke="#1a1a1a" stroke-width="1.6"/>
<text x="524.5" y="854.8" font-size="8.9" font-weight="bold" text-anchor="middle" fill="#111">30s</text>
<rect x="513.3" y="828.78" width="6" height="10.82" fill="#5b9ef0" stroke="#2c5490" stroke-width="1.5"/>
<line x1="516.3" y1="828.78" x2="516.3" y2="827.62" stroke="#2c5490" stroke-width="0.9"/>
<line x1="514.5" y1="827.62" x2="518.1" y2="827.62" stroke="#2c5490" stroke-width="0.9"/>
<line x1="516.3" y1="828.78" x2="516.3" y2="829.94" stroke="#9cc4f6" stroke-width="0.8"/>
<line x1="514.7" y1="829.94" x2="517.9" y2="829.94" stroke="#9cc4f6" stroke-width="0.8"/>
<circle cx="515.65" cy="825.69" r="1.9" fill="#0a0aff"/>
<circle cx="517.03" cy="827.23" r="1.9" fill="#0a0aff"/>
<circle cx="515.81" cy="828" r="1.9" fill="#0a0aff"/>
<circle cx="516.87" cy="829.55" r="1.9" fill="#0a0aff"/>
<circle cx="516.14" cy="830.32" r="1.9" fill="#0a0aff"/>
<circle cx="516.63" cy="831.1" r="1.9" fill="#0a0aff"/>
<rect x="521.5" y="820.27" width="6" height="19.33" fill="#ff8c8c" stroke="#ff1010" stroke-width="1.5"/>
<line x1="524.5" y1="820.27" x2="524.5" y2="818.73" stroke="#ff1010" stroke-width="0.9"/>
<line x1="522.7" y1="818.73" x2="526.3" y2="818.73" stroke="#ff1010" stroke-width="0.9"/>
<line x1="524.5" y1="820.27" x2="524.5" y2="821.82" stroke="#ffc0c0" stroke-width="0.8"/>
<line x1="522.9" y1="821.82" x2="526.1" y2="821.82" stroke="#ffc0c0" stroke-width="0.8"/>
<rect x="521.94" y="815.28" width="3.81" height="3.81" fill="#a00000" stroke="none" stroke-width="0"/>
<rect x="523.33" y="816.83" width="3.81" height="3.81" fill="#a00000" stroke="none" stroke-width="0"/>
<rect x="522.11" y="818.37" width="3.81" height="3.81" fill="#a00000" stroke="none" stroke-width="0"/>
<rect x="523.17" y="819.92" width="3.81" height="3.81" fill="#a00000" stroke="none" stroke-width="0"/>
<rect x="529.7" y="819.5" width="6" height="20.1" fill="#50f0a8" stroke="#00c400" stroke-width="1.5"/>
<line x1="532.7" y1="819.5" x2="532.7" y2="812.55" stroke="#00c400" stroke-width="0.9"/>
<line x1="530.9" y1="812.55" x2="534.5" y2="812.55" stroke="#00c400" stroke-width="0.9"/>
<line x1="532.7" y1="819.5" x2="532.7" y2="826.46" stroke="#a8f6cf" stroke-width="0.8"/>
<line x1="531.1" y1="826.46" x2="534.3" y2="826.46" stroke="#a8f6cf" stroke-width="0.8"/>
<polygon points="530.25,787.7 533.84,787.7 532.05,784.47" fill="#008000" stroke="none" stroke-width="1"/>
<polygon points="531.64,820.94 535.23,820.94 533.43,817.71" fill="#008000" stroke="none" stroke-width="1"/>
<polygon points="530.42,822.48 534.01,822.48 532.21,819.25" fill="#008000" stroke="none" stroke-width="1"/>
<polygon points="531.48,827.12 535.07,827.12 533.27,823.89" fill="#008000" stroke="none" stroke-width="1"/>
<polygon points="530.74,838.72 534.33,838.72 532.54,835.49" fill="#008000" stroke="none" stroke-width="1"/>
<polygon points="531.23,839.49 534.82,839.49 533.03,836.26" fill="#008000" stroke="none" stroke-width="1"/>
<line x1="552.82" y1="839.6" x2="552.82" y2="844.4" stroke="#1a1a1a" stroke-width="1.6"/>
<text x="552.82" y="854.8" font-size="8.9" font-weight="bold" text-anchor="middle" fill="#111">5m</text>
<rect x="541.62" y="776.99" width="6" height="62.61" fill="#5b9ef0" stroke="#2c5490" stroke-width="1.5"/>
<line x1="544.62" y1="776.99" x2="544.62" y2="771.58" stroke="#2c5490" stroke-width="0.9"/>
<line x1="542.82" y1="771.58" x2="546.42" y2="771.58" stroke="#2c5490" stroke-width="0.9"/>
<line x1="544.62" y1="776.99" x2="544.62" y2="782.4" stroke="#9cc4f6" stroke-width="0.8"/>
<line x1="543.02" y1="782.4" x2="546.22" y2="782.4" stroke="#9cc4f6" stroke-width="0.8"/>
<circle cx="543.97" cy="763.85" r="1.9" fill="#0a0aff"/>
<circle cx="545.35" cy="767.71" r="1.9" fill="#0a0aff"/>
<circle cx="544.13" cy="771.58" r="1.9" fill="#0a0aff"/>
<circle cx="545.19" cy="776.99" r="1.9" fill="#0a0aff"/>
<circle cx="544.46" cy="783.94" r="1.9" fill="#0a0aff"/>
<circle cx="544.95" cy="800.18" r="1.9" fill="#0a0aff"/>
<rect x="549.82" y="826.46" width="6" height="13.14" fill="#ff8c8c" stroke="#ff1010" stroke-width="1.5"/>
<line x1="552.82" y1="826.46" x2="552.82" y2="824.14" stroke="#ff1010" stroke-width="0.9"/>
<line x1="551.02" y1="824.14" x2="554.62" y2="824.14" stroke="#ff1010" stroke-width="0.9"/>
<line x1="552.82" y1="826.46" x2="552.82" y2="828.78" stroke="#ffc0c0" stroke-width="0.8"/>
<line x1="551.22" y1="828.78" x2="554.42" y2="828.78" stroke="#ffc0c0" stroke-width="0.8"/>
<rect x="550.26" y="821.46" width="3.81" height="3.81" fill="#a00000" stroke="none" stroke-width="0"/>
<rect x="551.65" y="823.01" width="3.81" height="3.81" fill="#a00000" stroke="none" stroke-width="0"/>
<rect x="550.43" y="826.1" width="3.81" height="3.81" fill="#a00000" stroke="none" stroke-width="0"/>
<rect x="551.49" y="833.83" width="3.81" height="3.81" fill="#a00000" stroke="none" stroke-width="0"/>
<rect x="558.02" y="743.75" width="6" height="95.85" fill="#50f0a8" stroke="#00c400" stroke-width="1.5"/>
<line x1="561.02" y1="743.75" x2="561.02" y2="734.47" stroke="#00c400" stroke-width="0.9"/>
<line x1="559.22" y1="734.47" x2="562.82" y2="734.47" stroke="#00c400" stroke-width="0.9"/>
<line x1="561.02" y1="743.75" x2="561.02" y2="753.02" stroke="#a8f6cf" stroke-width="0.8"/>
<line x1="559.42" y1="753.02" x2="562.62" y2="753.02" stroke="#a8f6cf" stroke-width="0.8"/>
<polygon points="558.57,735.91 562.16,735.91 560.37,732.68" fill="#008000" stroke="none" stroke-width="1"/>
<polygon points="559.96,746.73 563.55,746.73 561.75,743.5" fill="#008000" stroke="none" stroke-width="1"/>
<polygon points="558.74,756.01 562.33,756.01 560.53,752.77" fill="#008000" stroke="none" stroke-width="1"/>
<polygon points="559.8,771.47 563.39,771.47 561.59,768.23" fill="#008000" stroke="none" stroke-width="1"/>
<line x1="581.14" y1="839.6" x2="581.14" y2="844.4" stroke="#1a1a1a" stroke-width="1.6"/>
<text x="581.14" y="854.8" font-size="8.9" font-weight="bold" text-anchor="middle" fill="#111">10m</text>
<rect x="569.94" y="809.45" width="6" height="30.15" fill="#5b9ef0" stroke="#2c5490" stroke-width="1.5"/>
<line x1="572.94" y1="809.45" x2="572.94" y2="807.13" stroke="#2c5490" stroke-width="0.9"/>
<line x1="571.14" y1="807.13" x2="574.74" y2="807.13" stroke="#2c5490" stroke-width="0.9"/>
<line x1="572.94" y1="809.45" x2="572.94" y2="811.77" stroke="#9cc4f6" stroke-width="0.8"/>
<line x1="571.34" y1="811.77" x2="574.54" y2="811.77" stroke="#9cc4f6" stroke-width="0.8"/>
<circle cx="572.29" cy="798.63" r="1.9" fill="#0a0aff"/>
<circle cx="573.67" cy="806.36" r="1.9" fill="#0a0aff"/>
<circle cx="572.45" cy="808.68" r="1.9" fill="#0a0aff"/>
<circle cx="573.51" cy="811.77" r="1.9" fill="#0a0aff"/>
<circle cx="572.78" cy="818.73" r="1.9" fill="#0a0aff"/>
<rect x="578.14" y="834.96" width="6" height="4.64" fill="#ff8c8c" stroke="#ff1010" stroke-width="1.5"/>
<line x1="581.14" y1="834.96" x2="581.14" y2="834.58" stroke="#ff1010" stroke-width="0.9"/>
<line x1="579.34" y1="834.58" x2="582.94" y2="834.58" stroke="#ff1010" stroke-width="0.9"/>
<line x1="581.14" y1="834.96" x2="581.14" y2="835.35" stroke="#ffc0c0" stroke-width="0.8"/>
<line x1="579.54" y1="835.35" x2="582.74" y2="835.35" stroke="#ffc0c0" stroke-width="0.8"/>
<rect x="578.58" y="832.29" width="3.81" height="3.81" fill="#a00000" stroke="none" stroke-width="0"/>
<rect x="579.97" y="833.06" width="3.81" height="3.81" fill="#a00000" stroke="none" stroke-width="0"/>
<rect x="578.75" y="833.83" width="3.81" height="3.81" fill="#a00000" stroke="none" stroke-width="0"/>
<rect x="586.34" y="797.86" width="6" height="41.74" fill="#50f0a8" stroke="#00c400" stroke-width="1.5"/>
<line x1="589.34" y1="797.86" x2="589.34" y2="793.22" stroke="#00c400" stroke-width="0.9"/>
<line x1="587.54" y1="793.22" x2="591.14" y2="793.22" stroke="#00c400" stroke-width="0.9"/>
<line x1="589.34" y1="797.86" x2="589.34" y2="802.5" stroke="#a8f6cf" stroke-width="0.8"/>
<line x1="587.74" y1="802.5" x2="590.94" y2="802.5" stroke="#a8f6cf" stroke-width="0.8"/>
<polygon points="586.89,778.42 590.48,778.42 588.69,775.19" fill="#008000" stroke="none" stroke-width="1"/>
<polygon points="588.28,794.66 591.87,794.66 590.07,791.42" fill="#008000" stroke="none" stroke-width="1"/>
<polygon points="587.06,800.07 590.65,800.07 588.85,796.84" fill="#008000" stroke="none" stroke-width="1"/>
<polygon points="588.12,803.16 591.71,803.16 589.91,799.93" fill="#008000" stroke="none" stroke-width="1"/>
<polygon points="587.38,816.3 590.97,816.3 589.18,813.07" fill="#008000" stroke="none" stroke-width="1"/>
<line x1="609.46" y1="839.6" x2="609.46" y2="844.4" stroke="#1a1a1a" stroke-width="1.6"/>
<text x="609.46" y="854.8" font-size="8.9" font-weight="bold" text-anchor="middle" fill="#111">30m</text>
<rect x="598.26" y="835.74" width="6" height="3.87" fill="#5b9ef0" stroke="#2c5490" stroke-width="1.5"/>
<line x1="601.26" y1="835.74" x2="601.26" y2="834.96" stroke="#2c5490" stroke-width="0.9"/>
<line x1="599.46" y1="834.96" x2="603.06" y2="834.96" stroke="#2c5490" stroke-width="0.9"/>
<line x1="601.26" y1="835.74" x2="601.26" y2="836.51" stroke="#9cc4f6" stroke-width="0.8"/>
<line x1="599.66" y1="836.51" x2="602.86" y2="836.51" stroke="#9cc4f6" stroke-width="0.8"/>
<circle cx="600.61" cy="833.42" r="1.9" fill="#0a0aff"/>
<circle cx="601.99" cy="834.96" r="1.9" fill="#0a0aff"/>
<circle cx="600.77" cy="836.51" r="1.9" fill="#0a0aff"/>
<rect x="606.46" y="838.05" width="6" height="1.55" fill="#ff8c8c" stroke="#ff1010" stroke-width="1.5"/>
<line x1="609.46" y1="838.05" x2="609.46" y2="837.82" stroke="#ff1010" stroke-width="0.9"/>
<line x1="607.66" y1="837.82" x2="611.26" y2="837.82" stroke="#ff1010" stroke-width="0.9"/>
<line x1="609.46" y1="838.05" x2="609.46" y2="838.29" stroke="#ffc0c0" stroke-width="0.8"/>
<line x1="607.86" y1="838.29" x2="611.06" y2="838.29" stroke="#ffc0c0" stroke-width="0.8"/>
<rect x="606.9" y="835.38" width="3.81" height="3.81" fill="#a00000" stroke="none" stroke-width="0"/>
<rect x="608.29" y="836.15" width="3.81" height="3.81" fill="#a00000" stroke="none" stroke-width="0"/>
<rect x="607.07" y="836.92" width="3.81" height="3.81" fill="#a00000" stroke="none" stroke-width="0"/>
<rect x="614.66" y="817.96" width="6" height="21.64" fill="#50f0a8" stroke="#00c400" stroke-width="1.5"/>
<line x1="617.66" y1="817.96" x2="617.66" y2="811.77" stroke="#00c400" stroke-width="0.9"/>
<line x1="615.86" y1="811.77" x2="619.46" y2="811.77" stroke="#00c400" stroke-width="0.9"/>
<line x1="617.66" y1="817.96" x2="617.66" y2="824.14" stroke="#a8f6cf" stroke-width="0.8"/>
<line x1="616.06" y1="824.14" x2="619.26" y2="824.14" stroke="#a8f6cf" stroke-width="0.8"/>
<polygon points="615.21,790.02 618.8,790.02 617.01,786.79" fill="#008000" stroke="none" stroke-width="1"/>
<polygon points="616.6,817.85 620.19,817.85 618.39,814.61" fill="#008000" stroke="none" stroke-width="1"/>
<polygon points="615.38,824.03 618.97,824.03 617.17,820.8" fill="#008000" stroke="none" stroke-width="1"/>
<polygon points="616.44,838.72 620.03,838.72 618.23,835.49" fill="#008000" stroke="none" stroke-width="1"/>
<line x1="637.78" y1="839.6" x2="637.78" y2="844.4" stroke="#1a1a1a" stroke-width="1.6"/>
<text x="637.78" y="854.8" font-size="8.9" font-weight="bold" text-anchor="middle" fill="#111">1h</text>
<rect x="626.58" y="835.74" width="6" height="3.87" fill="#5b9ef0" stroke="#2c5490" stroke-width="1.5"/>
<line x1="629.58" y1="835.74" x2="629.58" y2="834.96" stroke="#2c5490" stroke-width="0.9"/>
<line x1="627.78" y1="834.96" x2="631.38" y2="834.96" stroke="#2c5490" stroke-width="0.9"/>
<line x1="629.58" y1="835.74" x2="629.58" y2="836.51" stroke="#9cc4f6" stroke-width="0.8"/>
<line x1="627.98" y1="836.51" x2="631.18" y2="836.51" stroke="#9cc4f6" stroke-width="0.8"/>
<circle cx="628.93" cy="833.42" r="1.9" fill="#0a0aff"/>
<circle cx="630.31" cy="834.96" r="1.9" fill="#0a0aff"/>
<circle cx="629.09" cy="837.28" r="1.9" fill="#0a0aff"/>
<rect x="634.78" y="835.74" width="6" height="3.87" fill="#ff8c8c" stroke="#ff1010" stroke-width="1.5"/>
<line x1="637.78" y1="835.74" x2="637.78" y2="834.96" stroke="#ff1010" stroke-width="0.9"/>
<line x1="635.98" y1="834.96" x2="639.58" y2="834.96" stroke="#ff1010" stroke-width="0.9"/>
<line x1="637.78" y1="835.74" x2="637.78" y2="836.51" stroke="#ffc0c0" stroke-width="0.8"/>
<line x1="636.18" y1="836.51" x2="639.38" y2="836.51" stroke="#ffc0c0" stroke-width="0.8"/>
<rect x="635.22" y="831.51" width="3.81" height="3.81" fill="#a00000" stroke="none" stroke-width="0"/>
<rect x="636.61" y="833.83" width="3.81" height="3.81" fill="#a00000" stroke="none" stroke-width="0"/>
<rect x="635.39" y="835.38" width="3.81" height="3.81" fill="#a00000" stroke="none" stroke-width="0"/>
<rect x="642.98" y="834.19" width="6" height="5.41" fill="#50f0a8" stroke="#00c400" stroke-width="1.5"/>
<line x1="645.98" y1="834.19" x2="645.98" y2="833.42" stroke="#00c400" stroke-width="0.9"/>
<line x1="644.18" y1="833.42" x2="647.78" y2="833.42" stroke="#00c400" stroke-width="0.9"/>
<line x1="645.98" y1="834.19" x2="645.98" y2="834.96" stroke="#a8f6cf" stroke-width="0.8"/>
<line x1="644.38" y1="834.96" x2="647.58" y2="834.96" stroke="#a8f6cf" stroke-width="0.8"/>
<polygon points="643.53,834.08 647.12,834.08 645.33,830.85" fill="#008000" stroke="none" stroke-width="1"/>
<polygon points="644.92,835.63 648.51,835.63 646.71,832.39" fill="#008000" stroke="none" stroke-width="1"/>
<polygon points="643.7,836.4 647.29,836.4 645.49,833.17" fill="#008000" stroke="none" stroke-width="1"/>
<line x1="666.1" y1="839.6" x2="666.1" y2="844.4" stroke="#1a1a1a" stroke-width="1.6"/>
<text x="666.1" y="854.8" font-size="8.9" font-weight="bold" text-anchor="middle" fill="#111">3h</text>
<rect x="654.9" y="837.28" width="6" height="2.32" fill="#5b9ef0" stroke="#2c5490" stroke-width="1.5"/>
<line x1="657.9" y1="837.28" x2="657.9" y2="836.51" stroke="#2c5490" stroke-width="0.9"/>
<line x1="656.1" y1="836.51" x2="659.7" y2="836.51" stroke="#2c5490" stroke-width="0.9"/>
<line x1="657.9" y1="837.28" x2="657.9" y2="838.05" stroke="#9cc4f6" stroke-width="0.8"/>
<line x1="656.3" y1="838.05" x2="659.5" y2="838.05" stroke="#9cc4f6" stroke-width="0.8"/>
<circle cx="657.25" cy="832.64" r="1.9" fill="#0a0aff"/>
<circle cx="658.63" cy="837.28" r="1.9" fill="#0a0aff"/>
<circle cx="657.41" cy="838.83" r="1.9" fill="#0a0aff"/>
<rect x="663.1" y="836.89" width="6" height="2.71" fill="#ff8c8c" stroke="#ff1010" stroke-width="1.5"/>
<line x1="666.1" y1="836.89" x2="666.1" y2="835.74" stroke="#ff1010" stroke-width="0.9"/>
<line x1="664.3" y1="835.74" x2="667.9" y2="835.74" stroke="#ff1010" stroke-width="0.9"/>
<line x1="666.1" y1="836.89" x2="666.1" y2="838.05" stroke="#ffc0c0" stroke-width="0.8"/>
<line x1="664.5" y1="838.05" x2="667.7" y2="838.05" stroke="#ffc0c0" stroke-width="0.8"/>
<rect x="663.54" y="829.19" width="3.81" height="3.81" fill="#a00000" stroke="none" stroke-width="0"/>
<rect x="664.93" y="835.38" width="3.81" height="3.81" fill="#a00000" stroke="none" stroke-width="0"/>
<rect x="663.71" y="836.92" width="3.81" height="3.81" fill="#a00000" stroke="none" stroke-width="0"/>
<rect x="671.3" y="837.28" width="6" height="2.32" fill="#50f0a8" stroke="#00c400" stroke-width="1.5"/>
<line x1="674.3" y1="837.28" x2="674.3" y2="836.89" stroke="#00c400" stroke-width="0.9"/>
<line x1="672.5" y1="836.89" x2="676.1" y2="836.89" stroke="#00c400" stroke-width="0.9"/>
<line x1="674.3" y1="837.28" x2="674.3" y2="837.67" stroke="#a8f6cf" stroke-width="0.8"/>
<line x1="672.7" y1="837.67" x2="675.9" y2="837.67" stroke="#a8f6cf" stroke-width="0.8"/>
<polygon points="671.85,837.17 675.44,837.17 673.65,833.94" fill="#008000" stroke="none" stroke-width="1"/>
<polygon points="673.24,838.72 676.83,838.72 675.03,835.49" fill="#008000" stroke="none" stroke-width="1"/>
<polygon points="672.02,840.26 675.61,840.26 673.81,837.03" fill="#008000" stroke="none" stroke-width="1"/>
<circle cx="641.4" cy="732.8" r="2.02" fill="#0a0aff"/>
<text x="654.7" y="736.2" font-size="9.5" text-anchor="start" fill="#111">Liver</text>
<rect x="639.38" y="741.98" width="4.03" height="4.03" fill="#a00000" stroke="none" stroke-width="0"/>
<text x="654.7" y="747.4" font-size="9.5" text-anchor="start" fill="#111">Lung</text>
<polygon points="639.02,757.1 643.78,757.1 641.4,752.82" fill="#008000" stroke="none" stroke-width="1"/>
<text x="654.7" y="758.6" font-size="9.5" text-anchor="start" fill="#111">Spleen</text>
</svg></body></html>
